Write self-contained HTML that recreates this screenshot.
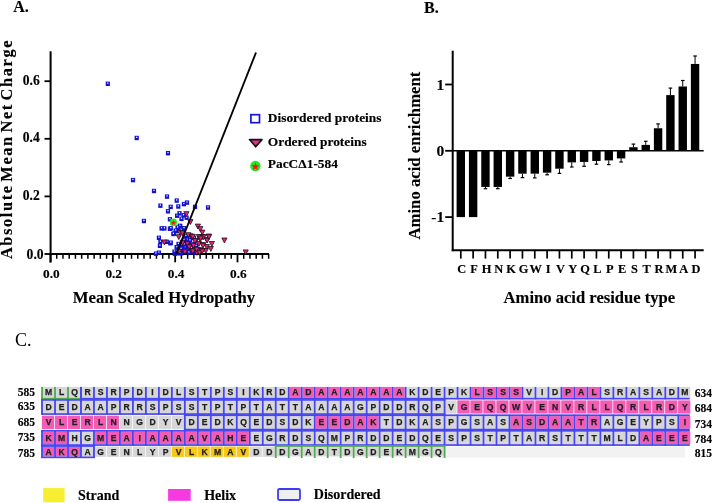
<!DOCTYPE html>
<html><head><meta charset="utf-8"><style>
html,body{margin:0;padding:0;background:#fff;}
body{width:712px;height:503px;overflow:hidden;position:relative;font-family:"Liberation Serif", serif;}
svg{position:absolute;left:0;top:0;will-change:transform;filter:blur(0.3px);}
text.s{stroke:#000;stroke-width:0.15px;}
</style></head><body>
<svg width="712" height="503" viewBox="0 0 712 503">
<line x1="50.6" y1="51.3" x2="50.6" y2="262.5" stroke="#000" stroke-width="2"/>
<line x1="50" y1="254" x2="269" y2="254" stroke="#000" stroke-width="2"/>
<line x1="44.5" y1="254.0" x2="51" y2="254.0" stroke="#000" stroke-width="1.8"/>
<text x="43.6" y="258.6" text-anchor="end" class="s" font-family='"Liberation Serif", serif' font-weight="bold" font-size="13.6">0.0</text>
<line x1="44.5" y1="196.4" x2="51" y2="196.4" stroke="#000" stroke-width="1.8"/>
<text x="39.8" y="199.8" text-anchor="end" class="s" font-family='"Liberation Serif", serif' font-weight="bold" font-size="13.6">0.2</text>
<line x1="44.5" y1="138.8" x2="51" y2="138.8" stroke="#000" stroke-width="1.8"/>
<text x="39.8" y="142.2" text-anchor="end" class="s" font-family='"Liberation Serif", serif' font-weight="bold" font-size="13.6">0.4</text>
<line x1="44.5" y1="81.2" x2="51" y2="81.2" stroke="#000" stroke-width="1.8"/>
<text x="39.8" y="84.6" text-anchor="end" class="s" font-family='"Liberation Serif", serif' font-weight="bold" font-size="13.6">0.6</text>
<line x1="50.50" y1="254" x2="50.50" y2="262.3" stroke="#000" stroke-width="1.8"/>
<text x="51.4" y="278.4" text-anchor="middle" class="s" font-family='"Liberation Serif", serif' font-weight="bold" font-size="13.3">0.0</text>
<line x1="56.73" y1="254" x2="56.73" y2="258.8" stroke="#000" stroke-width="1.5"/>
<line x1="62.97" y1="254" x2="62.97" y2="258.8" stroke="#000" stroke-width="1.5"/>
<line x1="69.20" y1="254" x2="69.20" y2="258.8" stroke="#000" stroke-width="1.5"/>
<line x1="75.43" y1="254" x2="75.43" y2="258.8" stroke="#000" stroke-width="1.5"/>
<line x1="81.66" y1="254" x2="81.66" y2="258.8" stroke="#000" stroke-width="1.5"/>
<line x1="87.90" y1="254" x2="87.90" y2="258.8" stroke="#000" stroke-width="1.5"/>
<line x1="94.13" y1="254" x2="94.13" y2="258.8" stroke="#000" stroke-width="1.5"/>
<line x1="100.36" y1="254" x2="100.36" y2="258.8" stroke="#000" stroke-width="1.5"/>
<line x1="106.60" y1="254" x2="106.60" y2="258.8" stroke="#000" stroke-width="1.5"/>
<line x1="112.83" y1="254" x2="112.83" y2="262.3" stroke="#000" stroke-width="1.8"/>
<text x="113.7" y="278.4" text-anchor="middle" class="s" font-family='"Liberation Serif", serif' font-weight="bold" font-size="13.3">0.2</text>
<line x1="119.06" y1="254" x2="119.06" y2="258.8" stroke="#000" stroke-width="1.5"/>
<line x1="125.30" y1="254" x2="125.30" y2="258.8" stroke="#000" stroke-width="1.5"/>
<line x1="131.53" y1="254" x2="131.53" y2="258.8" stroke="#000" stroke-width="1.5"/>
<line x1="137.76" y1="254" x2="137.76" y2="258.8" stroke="#000" stroke-width="1.5"/>
<line x1="144.00" y1="254" x2="144.00" y2="258.8" stroke="#000" stroke-width="1.5"/>
<line x1="150.23" y1="254" x2="150.23" y2="258.8" stroke="#000" stroke-width="1.5"/>
<line x1="156.46" y1="254" x2="156.46" y2="258.8" stroke="#000" stroke-width="1.5"/>
<line x1="162.69" y1="254" x2="162.69" y2="258.8" stroke="#000" stroke-width="1.5"/>
<line x1="168.93" y1="254" x2="168.93" y2="258.8" stroke="#000" stroke-width="1.5"/>
<line x1="175.16" y1="254" x2="175.16" y2="262.3" stroke="#000" stroke-width="1.8"/>
<text x="176.1" y="278.4" text-anchor="middle" class="s" font-family='"Liberation Serif", serif' font-weight="bold" font-size="13.3">0.4</text>
<line x1="181.39" y1="254" x2="181.39" y2="258.8" stroke="#000" stroke-width="1.5"/>
<line x1="187.63" y1="254" x2="187.63" y2="258.8" stroke="#000" stroke-width="1.5"/>
<line x1="193.86" y1="254" x2="193.86" y2="258.8" stroke="#000" stroke-width="1.5"/>
<line x1="200.09" y1="254" x2="200.09" y2="258.8" stroke="#000" stroke-width="1.5"/>
<line x1="206.32" y1="254" x2="206.32" y2="258.8" stroke="#000" stroke-width="1.5"/>
<line x1="212.56" y1="254" x2="212.56" y2="258.8" stroke="#000" stroke-width="1.5"/>
<line x1="218.79" y1="254" x2="218.79" y2="258.8" stroke="#000" stroke-width="1.5"/>
<line x1="225.02" y1="254" x2="225.02" y2="258.8" stroke="#000" stroke-width="1.5"/>
<line x1="231.26" y1="254" x2="231.26" y2="258.8" stroke="#000" stroke-width="1.5"/>
<line x1="237.49" y1="254" x2="237.49" y2="262.3" stroke="#000" stroke-width="1.8"/>
<text x="238.4" y="278.4" text-anchor="middle" class="s" font-family='"Liberation Serif", serif' font-weight="bold" font-size="13.3">0.6</text>
<line x1="243.72" y1="254" x2="243.72" y2="258.8" stroke="#000" stroke-width="1.5"/>
<line x1="249.96" y1="254" x2="249.96" y2="258.8" stroke="#000" stroke-width="1.5"/>
<line x1="256.19" y1="254" x2="256.19" y2="258.8" stroke="#000" stroke-width="1.5"/>
<line x1="262.42" y1="254" x2="262.42" y2="258.8" stroke="#000" stroke-width="1.5"/>
<line x1="268.65" y1="254" x2="268.65" y2="258.8" stroke="#000" stroke-width="1.5"/>
<rect x="105.7" y="81.6" width="4.2" height="4.4" fill="#1212d0"/><rect x="107.2" y="82.5" width="1.2" height="1.3" fill="#fff"/>
<rect x="134.6" y="135.8" width="4.2" height="4.4" fill="#1212d0"/><rect x="136.1" y="136.7" width="1.2" height="1.3" fill="#fff"/>
<rect x="165.9" y="151.0" width="4.2" height="4.4" fill="#1212d0"/><rect x="167.4" y="151.9" width="1.2" height="1.3" fill="#fff"/>
<rect x="130.9" y="177.9" width="4.2" height="4.4" fill="#1212d0"/><rect x="132.4" y="178.8" width="1.2" height="1.3" fill="#fff"/>
<rect x="151.9" y="188.8" width="4.2" height="4.4" fill="#1212d0"/><rect x="153.4" y="189.7" width="1.2" height="1.3" fill="#fff"/>
<rect x="141.8" y="218.8" width="4.2" height="4.4" fill="#1212d0"/><rect x="143.3" y="219.7" width="1.2" height="1.3" fill="#fff"/>
<rect x="164.9" y="194.4" width="4.2" height="4.4" fill="#1212d0"/><rect x="166.4" y="195.3" width="1.2" height="1.3" fill="#fff"/>
<rect x="174.6" y="198.4" width="4.2" height="4.4" fill="#1212d0"/><rect x="176.1" y="199.3" width="1.2" height="1.3" fill="#fff"/>
<rect x="158.3" y="203.5" width="4.2" height="4.4" fill="#1212d0"/><rect x="159.8" y="204.4" width="1.2" height="1.3" fill="#fff"/>
<rect x="168.6" y="204.7" width="4.2" height="4.4" fill="#1212d0"/><rect x="170.1" y="205.6" width="1.2" height="1.3" fill="#fff"/>
<rect x="176.2" y="204.3" width="4.2" height="4.4" fill="#1212d0"/><rect x="177.7" y="205.2" width="1.2" height="1.3" fill="#fff"/>
<rect x="181.8" y="201.9" width="4.2" height="4.4" fill="#1212d0"/><rect x="183.3" y="202.8" width="1.2" height="1.3" fill="#fff"/>
<rect x="184.9" y="200.4" width="4.2" height="4.4" fill="#1212d0"/><rect x="186.4" y="201.3" width="1.2" height="1.3" fill="#fff"/>
<rect x="192.9" y="204.7" width="4.2" height="4.4" fill="#1212d0"/><rect x="194.4" y="205.6" width="1.2" height="1.3" fill="#fff"/>
<rect x="205.9" y="205.3" width="4.2" height="4.4" fill="#1212d0"/><rect x="207.4" y="206.2" width="1.2" height="1.3" fill="#fff"/>
<rect x="165.9" y="209.1" width="4.2" height="4.4" fill="#1212d0"/><rect x="167.4" y="210.0" width="1.2" height="1.3" fill="#fff"/>
<rect x="175.0" y="213.5" width="4.2" height="4.4" fill="#1212d0"/><rect x="176.5" y="214.4" width="1.2" height="1.3" fill="#fff"/>
<rect x="177.4" y="211.1" width="4.2" height="4.4" fill="#1212d0"/><rect x="178.9" y="212.0" width="1.2" height="1.3" fill="#fff"/>
<rect x="181.4" y="213.1" width="4.2" height="4.4" fill="#1212d0"/><rect x="182.9" y="214.0" width="1.2" height="1.3" fill="#fff"/>
<rect x="179.4" y="216.7" width="4.2" height="4.4" fill="#1212d0"/><rect x="180.9" y="217.6" width="1.2" height="1.3" fill="#fff"/>
<rect x="184.5" y="215.5" width="4.2" height="4.4" fill="#1212d0"/><rect x="186.0" y="216.4" width="1.2" height="1.3" fill="#fff"/>
<rect x="167.8" y="217.1" width="4.2" height="4.4" fill="#1212d0"/><rect x="169.3" y="218.0" width="1.2" height="1.3" fill="#fff"/>
<rect x="159.5" y="226.2" width="4.2" height="4.4" fill="#1212d0"/><rect x="161.0" y="227.1" width="1.2" height="1.3" fill="#fff"/>
<rect x="162.3" y="226.2" width="4.2" height="4.4" fill="#1212d0"/><rect x="163.8" y="227.1" width="1.2" height="1.3" fill="#fff"/>
<rect x="167.8" y="226.6" width="4.2" height="4.4" fill="#1212d0"/><rect x="169.3" y="227.5" width="1.2" height="1.3" fill="#fff"/>
<rect x="178.2" y="223.8" width="4.2" height="4.4" fill="#1212d0"/><rect x="179.7" y="224.7" width="1.2" height="1.3" fill="#fff"/>
<rect x="175.8" y="226.2" width="4.2" height="4.4" fill="#1212d0"/><rect x="177.3" y="227.1" width="1.2" height="1.3" fill="#fff"/>
<rect x="181.8" y="226.6" width="4.2" height="4.4" fill="#1212d0"/><rect x="183.3" y="227.5" width="1.2" height="1.3" fill="#fff"/>
<rect x="173.8" y="229.0" width="4.2" height="4.4" fill="#1212d0"/><rect x="175.3" y="229.9" width="1.2" height="1.3" fill="#fff"/>
<rect x="171.8" y="231.4" width="4.2" height="4.4" fill="#1212d0"/><rect x="173.3" y="232.3" width="1.2" height="1.3" fill="#fff"/>
<rect x="156.8" y="235.6" width="4.2" height="4.4" fill="#1212d0"/><rect x="158.3" y="236.5" width="1.2" height="1.3" fill="#fff"/>
<rect x="158.3" y="239.6" width="4.2" height="4.4" fill="#1212d0"/><rect x="159.8" y="240.5" width="1.2" height="1.3" fill="#fff"/>
<rect x="164.7" y="239.6" width="4.2" height="4.4" fill="#1212d0"/><rect x="166.2" y="240.5" width="1.2" height="1.3" fill="#fff"/>
<rect x="168.2" y="241.1" width="4.2" height="4.4" fill="#1212d0"/><rect x="169.7" y="242.0" width="1.2" height="1.3" fill="#fff"/>
<rect x="157.8" y="243.6" width="4.2" height="4.4" fill="#1212d0"/><rect x="159.3" y="244.5" width="1.2" height="1.3" fill="#fff"/>
<rect x="174.7" y="245.1" width="4.2" height="4.4" fill="#1212d0"/><rect x="176.2" y="246.0" width="1.2" height="1.3" fill="#fff"/>
<rect x="153.8" y="251.5" width="4.2" height="4.4" fill="#1212d0"/><rect x="155.3" y="252.4" width="1.2" height="1.3" fill="#fff"/>
<rect x="156.8" y="250.5" width="4.2" height="4.4" fill="#1212d0"/><rect x="158.3" y="251.4" width="1.2" height="1.3" fill="#fff"/>
<rect x="172.7" y="251.5" width="4.2" height="4.4" fill="#1212d0"/><rect x="174.2" y="252.4" width="1.2" height="1.3" fill="#fff"/>
<rect x="177.7" y="223.8" width="4.2" height="4.4" fill="#1212d0"/><rect x="179.2" y="224.7" width="1.2" height="1.3" fill="#fff"/>
<rect x="175.5" y="225.4" width="4.2" height="4.4" fill="#1212d0"/><rect x="177.0" y="226.3" width="1.2" height="1.3" fill="#fff"/>
<rect x="181.9" y="226.1" width="4.2" height="4.4" fill="#1212d0"/><rect x="183.4" y="227.0" width="1.2" height="1.3" fill="#fff"/>
<rect x="179.2" y="228.4" width="4.2" height="4.4" fill="#1212d0"/><rect x="180.7" y="229.3" width="1.2" height="1.3" fill="#fff"/>
<rect x="173.6" y="228.4" width="4.2" height="4.4" fill="#1212d0"/><rect x="175.1" y="229.3" width="1.2" height="1.3" fill="#fff"/>
<rect x="171.3" y="231.8" width="4.2" height="4.4" fill="#1212d0"/><rect x="172.8" y="232.7" width="1.2" height="1.3" fill="#fff"/>
<rect x="168.7" y="226.1" width="4.2" height="4.4" fill="#1212d0"/><rect x="170.2" y="227.0" width="1.2" height="1.3" fill="#fff"/>
<rect x="168.7" y="240.5" width="4.2" height="4.4" fill="#1212d0"/><rect x="170.2" y="241.4" width="1.2" height="1.3" fill="#fff"/>
<rect x="183.0" y="235.9" width="4.2" height="4.4" fill="#1212d0"/><rect x="184.5" y="236.8" width="1.2" height="1.3" fill="#fff"/>
<rect x="181.1" y="239.7" width="4.2" height="4.4" fill="#1212d0"/><rect x="182.6" y="240.6" width="1.2" height="1.3" fill="#fff"/>
<rect x="185.3" y="237.5" width="4.2" height="4.4" fill="#1212d0"/><rect x="186.8" y="238.4" width="1.2" height="1.3" fill="#fff"/>
<rect x="187.6" y="235.9" width="4.2" height="4.4" fill="#1212d0"/><rect x="189.1" y="236.8" width="1.2" height="1.3" fill="#fff"/>
<rect x="183.8" y="240.5" width="4.2" height="4.4" fill="#1212d0"/><rect x="185.3" y="241.4" width="1.2" height="1.3" fill="#fff"/>
<rect x="180.0" y="242.8" width="4.2" height="4.4" fill="#1212d0"/><rect x="181.5" y="243.7" width="1.2" height="1.3" fill="#fff"/>
<rect x="183.0" y="245.0" width="4.2" height="4.4" fill="#1212d0"/><rect x="184.5" y="245.9" width="1.2" height="1.3" fill="#fff"/>
<rect x="187.6" y="240.5" width="4.2" height="4.4" fill="#1212d0"/><rect x="189.1" y="241.4" width="1.2" height="1.3" fill="#fff"/>
<rect x="190.6" y="242.8" width="4.2" height="4.4" fill="#1212d0"/><rect x="192.1" y="243.7" width="1.2" height="1.3" fill="#fff"/>
<rect x="174.7" y="245.0" width="4.2" height="4.4" fill="#1212d0"/><rect x="176.2" y="245.9" width="1.2" height="1.3" fill="#fff"/>
<rect x="177.7" y="246.5" width="4.2" height="4.4" fill="#1212d0"/><rect x="179.2" y="247.4" width="1.2" height="1.3" fill="#fff"/>
<rect x="180.0" y="248.0" width="4.2" height="4.4" fill="#1212d0"/><rect x="181.5" y="248.9" width="1.2" height="1.3" fill="#fff"/>
<rect x="185.3" y="248.0" width="4.2" height="4.4" fill="#1212d0"/><rect x="186.8" y="248.9" width="1.2" height="1.3" fill="#fff"/>
<rect x="172.4" y="249.5" width="4.2" height="4.4" fill="#1212d0"/><rect x="173.9" y="250.4" width="1.2" height="1.3" fill="#fff"/>
<rect x="174.7" y="251.1" width="4.2" height="4.4" fill="#1212d0"/><rect x="176.2" y="252.0" width="1.2" height="1.3" fill="#fff"/>
<rect x="179.2" y="251.1" width="4.2" height="4.4" fill="#1212d0"/><rect x="180.7" y="252.0" width="1.2" height="1.3" fill="#fff"/>
<rect x="186.8" y="250.3" width="4.2" height="4.4" fill="#1212d0"/><rect x="188.3" y="251.2" width="1.2" height="1.3" fill="#fff"/>
<rect x="192.1" y="250.3" width="4.2" height="4.4" fill="#1212d0"/><rect x="193.6" y="251.2" width="1.2" height="1.3" fill="#fff"/>
<rect x="189.1" y="245.8" width="4.2" height="4.4" fill="#1212d0"/><rect x="190.6" y="246.7" width="1.2" height="1.3" fill="#fff"/>
<rect x="183.9" y="233.8" width="4.2" height="4.4" fill="#1212d0"/><rect x="185.4" y="234.7" width="1.2" height="1.3" fill="#fff"/>
<rect x="187.9" y="238.3" width="4.2" height="4.4" fill="#1212d0"/><rect x="189.4" y="239.2" width="1.2" height="1.3" fill="#fff"/>
<rect x="191.9" y="235.8" width="4.2" height="4.4" fill="#1212d0"/><rect x="193.4" y="236.7" width="1.2" height="1.3" fill="#fff"/>
<rect x="181.9" y="242.3" width="4.2" height="4.4" fill="#1212d0"/><rect x="183.4" y="243.2" width="1.2" height="1.3" fill="#fff"/>
<rect x="185.9" y="243.8" width="4.2" height="4.4" fill="#1212d0"/><rect x="187.4" y="244.7" width="1.2" height="1.3" fill="#fff"/>
<rect x="189.9" y="241.8" width="4.2" height="4.4" fill="#1212d0"/><rect x="191.4" y="242.7" width="1.2" height="1.3" fill="#fff"/>
<rect x="193.9" y="243.8" width="4.2" height="4.4" fill="#1212d0"/><rect x="195.4" y="244.7" width="1.2" height="1.3" fill="#fff"/>
<rect x="178.9" y="246.8" width="4.2" height="4.4" fill="#1212d0"/><rect x="180.4" y="247.7" width="1.2" height="1.3" fill="#fff"/>
<rect x="182.9" y="248.8" width="4.2" height="4.4" fill="#1212d0"/><rect x="184.4" y="249.7" width="1.2" height="1.3" fill="#fff"/>
<rect x="186.9" y="246.8" width="4.2" height="4.4" fill="#1212d0"/><rect x="188.4" y="247.7" width="1.2" height="1.3" fill="#fff"/>
<rect x="190.9" y="249.8" width="4.2" height="4.4" fill="#1212d0"/><rect x="192.4" y="250.7" width="1.2" height="1.3" fill="#fff"/>
<rect x="177.9" y="250.8" width="4.2" height="4.4" fill="#1212d0"/><rect x="179.4" y="251.7" width="1.2" height="1.3" fill="#fff"/>
<rect x="194.9" y="248.3" width="4.2" height="4.4" fill="#1212d0"/><rect x="196.4" y="249.2" width="1.2" height="1.3" fill="#fff"/>
<rect x="181.9" y="237.8" width="4.2" height="4.4" fill="#1212d0"/><rect x="183.4" y="238.7" width="1.2" height="1.3" fill="#fff"/>
<rect x="188.9" y="233.3" width="4.2" height="4.4" fill="#1212d0"/><rect x="190.4" y="234.2" width="1.2" height="1.3" fill="#fff"/>
<rect x="176.4" y="241.8" width="4.2" height="4.4" fill="#1212d0"/><rect x="177.9" y="242.7" width="1.2" height="1.3" fill="#fff"/>
<path d="M183.8 211.7H189.0L186.4 216.6Z" fill="#ec1c84" stroke="#141414" stroke-width="0.8"/>
<path d="M187.8 219.6H193.0L190.4 224.5Z" fill="#ec1c84" stroke="#141414" stroke-width="0.8"/>
<path d="M195.3 224.1H200.5L197.9 229.0Z" fill="#ec1c84" stroke="#141414" stroke-width="0.8"/>
<path d="M197.7 226.6H202.9L200.3 231.5Z" fill="#ec1c84" stroke="#141414" stroke-width="0.8"/>
<path d="M199.7 230.1H204.9L202.3 235.0Z" fill="#ec1c84" stroke="#141414" stroke-width="0.8"/>
<path d="M200.2 234.5H205.4L202.8 239.4Z" fill="#ec1c84" stroke="#141414" stroke-width="0.8"/>
<path d="M196.3 234.5H201.5L198.9 239.4Z" fill="#ec1c84" stroke="#141414" stroke-width="0.8"/>
<path d="M206.2 234.0H211.4L208.8 238.9Z" fill="#ec1c84" stroke="#141414" stroke-width="0.8"/>
<path d="M197.3 236.5H202.5L199.9 241.4Z" fill="#ec1c84" stroke="#141414" stroke-width="0.8"/>
<path d="M204.2 237.5H209.4L206.8 242.4Z" fill="#ec1c84" stroke="#141414" stroke-width="0.8"/>
<path d="M209.2 241.5H214.4L211.8 246.4Z" fill="#ec1c84" stroke="#141414" stroke-width="0.8"/>
<path d="M196.3 241.5H201.5L198.9 246.4Z" fill="#ec1c84" stroke="#141414" stroke-width="0.8"/>
<path d="M200.2 242.5H205.4L202.8 247.4Z" fill="#ec1c84" stroke="#141414" stroke-width="0.8"/>
<path d="M204.2 244.5H209.4L206.8 249.4Z" fill="#ec1c84" stroke="#141414" stroke-width="0.8"/>
<path d="M208.2 246.5H213.4L210.8 251.4Z" fill="#ec1c84" stroke="#141414" stroke-width="0.8"/>
<path d="M196.3 247.5H201.5L198.9 252.4Z" fill="#ec1c84" stroke="#141414" stroke-width="0.8"/>
<path d="M199.2 248.5H204.4L201.8 253.4Z" fill="#ec1c84" stroke="#141414" stroke-width="0.8"/>
<path d="M203.2 248.5H208.4L205.8 253.4Z" fill="#ec1c84" stroke="#141414" stroke-width="0.8"/>
<path d="M194.3 250.4H199.5L196.9 255.3Z" fill="#ec1c84" stroke="#141414" stroke-width="0.8"/>
<path d="M221.8 238.0H227.0L224.4 242.9Z" fill="#ec1c84" stroke="#141414" stroke-width="0.8"/>
<path d="M243.1 249.9H248.3L245.7 254.8Z" fill="#ec1c84" stroke="#141414" stroke-width="0.8"/>
<path d="M161.8 240.0H167.0L164.4 244.9Z" fill="#ec1c84" stroke="#141414" stroke-width="0.8"/>
<path d="M177.3 230.3H182.5L179.9 235.2Z" fill="#ec1c84" stroke="#141414" stroke-width="0.8"/>
<path d="M179.9 230.9H185.1L182.5 235.8Z" fill="#ec1c84" stroke="#141414" stroke-width="0.8"/>
<path d="M176.2 234.7H181.4L178.8 239.6Z" fill="#ec1c84" stroke="#141414" stroke-width="0.8"/>
<path d="M180.0 240.3H185.2L182.6 245.2Z" fill="#ec1c84" stroke="#141414" stroke-width="0.8"/>
<path d="M184.8 241.7H190.0L187.4 246.6Z" fill="#ec1c84" stroke="#141414" stroke-width="0.8"/>
<path d="M186.7 244.7H191.9L189.3 249.6Z" fill="#ec1c84" stroke="#141414" stroke-width="0.8"/>
<path d="M182.4 249.7H187.6L185.0 254.6Z" fill="#ec1c84" stroke="#141414" stroke-width="0.8"/>
<path d="M176.6 249.3H181.8L179.2 254.2Z" fill="#ec1c84" stroke="#141414" stroke-width="0.8"/>
<path d="M189.1 248.4H194.3L191.7 253.3Z" fill="#ec1c84" stroke="#141414" stroke-width="0.8"/>
<path d="M185.7 232.7H190.9L188.3 237.6Z" fill="#ec1c84" stroke="#141414" stroke-width="0.8"/>
<path d="M189.4 234.7H194.6L192.0 239.6Z" fill="#ec1c84" stroke="#141414" stroke-width="0.8"/>
<path d="M193.3 238.5H198.5L195.9 243.4Z" fill="#ec1c84" stroke="#141414" stroke-width="0.8"/>
<path d="M193.9 247.2H199.1L196.5 252.1Z" fill="#ec1c84" stroke="#141414" stroke-width="0.8"/>
<path d="M190.2 234.3H195.4L192.8 239.2Z" fill="#ec1c84" stroke="#141414" stroke-width="0.8"/>
<path d="M200.7 234.9H205.9L203.3 239.8Z" fill="#ec1c84" stroke="#141414" stroke-width="0.8"/>
<path d="M200.4 243.2H205.6L203.0 248.1Z" fill="#ec1c84" stroke="#141414" stroke-width="0.8"/>
<path d="M204.5 238.1H209.7L207.1 243.0Z" fill="#ec1c84" stroke="#141414" stroke-width="0.8"/>
<path d="M197.0 250.3H202.2L199.6 255.2Z" fill="#ec1c84" stroke="#141414" stroke-width="0.8"/>
<path d="M199.6 248.9H204.8L202.2 253.8Z" fill="#ec1c84" stroke="#141414" stroke-width="0.8"/>
<path d="M190.9 243.4H196.1L193.5 248.3Z" fill="#ec1c84" stroke="#141414" stroke-width="0.8"/>
<path d="M190.2 248.9H195.4L192.8 253.8Z" fill="#ec1c84" stroke="#141414" stroke-width="0.8"/>
<path d="M198.1 236.0H203.3L200.7 240.9Z" fill="#ec1c84" stroke="#141414" stroke-width="0.8"/>
<path d="M192.4 238.7H197.6L195.0 243.6Z" fill="#ec1c84" stroke="#141414" stroke-width="0.8"/>
<path d="M206.4 234.7H211.6L209.0 239.6Z" fill="#ec1c84" stroke="#141414" stroke-width="0.8"/>
<ellipse cx="173.4" cy="222.4" rx="3.6" ry="3.8" fill="#22ea22"/>
<path d="M173.40 220.00L174.11 221.83L176.06 221.93L174.54 223.17L175.05 225.07L173.40 224.00L171.75 225.07L172.26 223.17L170.74 221.93L172.69 221.83Z" fill="#f21a12"/>
<line x1="176.3" y1="254" x2="256" y2="52.5" stroke="#000" stroke-width="1.9"/>
<text x="164" y="303" text-anchor="middle" class="s" font-family='"Liberation Serif", serif' font-weight="bold" font-size="16.7">Mean Scaled Hydropathy</text>
<text transform="translate(12.2,149.0) rotate(-90)" text-anchor="middle" class="s" font-family='"Liberation Serif", serif' font-weight="bold" font-size="16.4" letter-spacing="1.6" word-spacing="-3">Absolute Mean Net Charge</text>
<rect x="250.9" y="114.7" width="8.6" height="8" fill="#fff" stroke="#1616d8" stroke-width="1.7"/>
<path d="M249.5 139.6H262L255.7 146.8Z" fill="#ee2a88" stroke="#111" stroke-width="1.6" stroke-linejoin="round"/>
<circle cx="255.4" cy="166" r="5.2" fill="#22ea22"/>
<path d="M255.40 162.40L256.46 165.14L259.39 165.30L257.11 167.16L257.87 170.00L255.40 168.40L252.93 170.00L253.69 167.16L251.41 165.30L254.34 165.14Z" fill="#f21a12"/>
<text x="267.8" y="122.1" class="s" font-family='"Liberation Serif", serif' font-weight="bold" font-size="13.4">Disordered proteins</text>
<text x="267.8" y="146.2" class="s" font-family='"Liberation Serif", serif' font-weight="bold" font-size="13.4">Ordered proteins</text>
<text x="267.8" y="168.1" class="s" font-family='"Liberation Serif", serif' font-weight="bold" font-size="13.4">PacCΔ1-584</text>
<text x="13.3" y="12" class="s" font-family='"Liberation Serif", serif' font-weight="bold" font-size="16">A.</text>
<text x="424" y="12.6" class="s" font-family='"Liberation Serif", serif' font-weight="bold" font-size="16">B.</text>
<text x="15" y="345.7" font-family='"Liberation Serif", serif' font-size="18">C.</text>
<rect x="456.60" y="150.80" width="8.4" height="66.30" fill="#000"/>
<line x1="460.80" y1="250" x2="460.80" y2="258.6" stroke="#000" stroke-width="1.7"/>
<text x="461.80" y="273.2" text-anchor="middle" class="s" font-family='"Liberation Serif", serif' font-weight="bold" font-size="12.4">C</text>
<rect x="468.93" y="150.80" width="8.4" height="66.30" fill="#000"/>
<line x1="473.13" y1="250" x2="473.13" y2="258.6" stroke="#000" stroke-width="1.7"/>
<text x="474.13" y="273.2" text-anchor="middle" class="s" font-family='"Liberation Serif", serif' font-weight="bold" font-size="12.4">F</text>
<rect x="481.26" y="150.80" width="8.4" height="36.13" fill="#000"/>
<line x1="485.46" y1="186.93" x2="485.46" y2="188.7" stroke="#000" stroke-width="1"/>
<line x1="483.66" y1="188.7" x2="487.26" y2="188.7" stroke="#000" stroke-width="1.2"/>
<line x1="485.46" y1="250" x2="485.46" y2="258.6" stroke="#000" stroke-width="1.7"/>
<text x="486.46" y="273.2" text-anchor="middle" class="s" font-family='"Liberation Serif", serif' font-weight="bold" font-size="12.4">H</text>
<rect x="493.59" y="150.80" width="8.4" height="36.13" fill="#000"/>
<line x1="497.79" y1="186.93" x2="497.79" y2="188.7" stroke="#000" stroke-width="1"/>
<line x1="495.99" y1="188.7" x2="499.59" y2="188.7" stroke="#000" stroke-width="1.2"/>
<line x1="497.79" y1="250" x2="497.79" y2="258.6" stroke="#000" stroke-width="1.7"/>
<text x="498.79" y="273.2" text-anchor="middle" class="s" font-family='"Liberation Serif", serif' font-weight="bold" font-size="12.4">N</text>
<rect x="505.92" y="150.80" width="8.4" height="25.86" fill="#000"/>
<line x1="510.12" y1="176.66" x2="510.12" y2="178.5" stroke="#000" stroke-width="1"/>
<line x1="508.32" y1="178.5" x2="511.92" y2="178.5" stroke="#000" stroke-width="1.2"/>
<line x1="510.12" y1="250" x2="510.12" y2="258.6" stroke="#000" stroke-width="1.7"/>
<text x="511.12" y="273.2" text-anchor="middle" class="s" font-family='"Liberation Serif", serif' font-weight="bold" font-size="12.4">K</text>
<rect x="518.25" y="150.80" width="8.4" height="22.87" fill="#000"/>
<line x1="522.45" y1="173.67" x2="522.45" y2="177.6" stroke="#000" stroke-width="1"/>
<line x1="520.65" y1="177.6" x2="524.25" y2="177.6" stroke="#000" stroke-width="1.2"/>
<line x1="522.45" y1="250" x2="522.45" y2="258.6" stroke="#000" stroke-width="1.7"/>
<text x="523.45" y="273.2" text-anchor="middle" class="s" font-family='"Liberation Serif", serif' font-weight="bold" font-size="12.4">G</text>
<rect x="530.58" y="150.80" width="8.4" height="22.87" fill="#000"/>
<line x1="534.78" y1="173.67" x2="534.78" y2="177.9" stroke="#000" stroke-width="1"/>
<line x1="532.98" y1="177.9" x2="536.58" y2="177.9" stroke="#000" stroke-width="1.2"/>
<line x1="534.78" y1="250" x2="534.78" y2="258.6" stroke="#000" stroke-width="1.7"/>
<text x="535.78" y="273.2" text-anchor="middle" class="s" font-family='"Liberation Serif", serif' font-weight="bold" font-size="12.4">W</text>
<rect x="542.91" y="150.80" width="8.4" height="21.88" fill="#000"/>
<line x1="547.11" y1="172.68" x2="547.11" y2="174.8" stroke="#000" stroke-width="1"/>
<line x1="545.31" y1="174.8" x2="548.91" y2="174.8" stroke="#000" stroke-width="1.2"/>
<line x1="547.11" y1="250" x2="547.11" y2="258.6" stroke="#000" stroke-width="1.7"/>
<text x="548.11" y="273.2" text-anchor="middle" class="s" font-family='"Liberation Serif", serif' font-weight="bold" font-size="12.4">I</text>
<rect x="555.24" y="150.80" width="8.4" height="17.90" fill="#000"/>
<line x1="559.44" y1="168.70" x2="559.44" y2="173.4" stroke="#000" stroke-width="1"/>
<line x1="557.64" y1="173.4" x2="561.24" y2="173.4" stroke="#000" stroke-width="1.2"/>
<line x1="559.44" y1="250" x2="559.44" y2="258.6" stroke="#000" stroke-width="1.7"/>
<text x="560.44" y="273.2" text-anchor="middle" class="s" font-family='"Liberation Serif", serif' font-weight="bold" font-size="12.4">V</text>
<rect x="567.57" y="150.80" width="8.4" height="11.60" fill="#000"/>
<line x1="571.77" y1="162.40" x2="571.77" y2="167" stroke="#000" stroke-width="1"/>
<line x1="569.97" y1="167" x2="573.57" y2="167" stroke="#000" stroke-width="1.2"/>
<line x1="571.77" y1="250" x2="571.77" y2="258.6" stroke="#000" stroke-width="1.7"/>
<text x="572.77" y="273.2" text-anchor="middle" class="s" font-family='"Liberation Serif", serif' font-weight="bold" font-size="12.4">Y</text>
<rect x="579.90" y="150.80" width="8.4" height="11.14" fill="#000"/>
<line x1="584.10" y1="161.94" x2="584.10" y2="166.3" stroke="#000" stroke-width="1"/>
<line x1="582.30" y1="166.3" x2="585.90" y2="166.3" stroke="#000" stroke-width="1.2"/>
<line x1="584.10" y1="250" x2="584.10" y2="258.6" stroke="#000" stroke-width="1.7"/>
<text x="585.10" y="273.2" text-anchor="middle" class="s" font-family='"Liberation Serif", serif' font-weight="bold" font-size="12.4">Q</text>
<rect x="592.23" y="150.80" width="8.4" height="10.14" fill="#000"/>
<line x1="596.43" y1="160.94" x2="596.43" y2="164.2" stroke="#000" stroke-width="1"/>
<line x1="594.63" y1="164.2" x2="598.23" y2="164.2" stroke="#000" stroke-width="1.2"/>
<line x1="596.43" y1="250" x2="596.43" y2="258.6" stroke="#000" stroke-width="1.7"/>
<text x="597.43" y="273.2" text-anchor="middle" class="s" font-family='"Liberation Serif", serif' font-weight="bold" font-size="12.4">L</text>
<rect x="604.56" y="150.80" width="8.4" height="9.61" fill="#000"/>
<line x1="608.76" y1="160.41" x2="608.76" y2="164.6" stroke="#000" stroke-width="1"/>
<line x1="606.96" y1="164.6" x2="610.56" y2="164.6" stroke="#000" stroke-width="1.2"/>
<line x1="608.76" y1="250" x2="608.76" y2="258.6" stroke="#000" stroke-width="1.7"/>
<text x="609.76" y="273.2" text-anchor="middle" class="s" font-family='"Liberation Serif", serif' font-weight="bold" font-size="12.4">P</text>
<rect x="616.89" y="150.80" width="8.4" height="7.62" fill="#000"/>
<line x1="621.09" y1="158.42" x2="621.09" y2="162" stroke="#000" stroke-width="1"/>
<line x1="619.29" y1="162" x2="622.89" y2="162" stroke="#000" stroke-width="1.2"/>
<line x1="621.09" y1="250" x2="621.09" y2="258.6" stroke="#000" stroke-width="1.7"/>
<text x="622.09" y="273.2" text-anchor="middle" class="s" font-family='"Liberation Serif", serif' font-weight="bold" font-size="12.4">E</text>
<rect x="629.22" y="147.22" width="8.4" height="3.58" fill="#000"/>
<line x1="633.42" y1="147.22" x2="633.42" y2="144.1" stroke="#000" stroke-width="1"/>
<line x1="631.62" y1="144.1" x2="635.22" y2="144.1" stroke="#000" stroke-width="1.2"/>
<line x1="633.42" y1="250" x2="633.42" y2="258.6" stroke="#000" stroke-width="1.7"/>
<text x="634.42" y="273.2" text-anchor="middle" class="s" font-family='"Liberation Serif", serif' font-weight="bold" font-size="12.4">S</text>
<rect x="641.55" y="144.90" width="8.4" height="5.90" fill="#000"/>
<line x1="645.75" y1="144.90" x2="645.75" y2="141.3" stroke="#000" stroke-width="1"/>
<line x1="643.95" y1="141.3" x2="647.55" y2="141.3" stroke="#000" stroke-width="1.2"/>
<line x1="645.75" y1="250" x2="645.75" y2="258.6" stroke="#000" stroke-width="1.7"/>
<text x="646.75" y="273.2" text-anchor="middle" class="s" font-family='"Liberation Serif", serif' font-weight="bold" font-size="12.4">T</text>
<rect x="653.88" y="128.26" width="8.4" height="22.54" fill="#000"/>
<line x1="658.08" y1="128.26" x2="658.08" y2="123.9" stroke="#000" stroke-width="1"/>
<line x1="656.28" y1="123.9" x2="659.88" y2="123.9" stroke="#000" stroke-width="1.2"/>
<line x1="658.08" y1="250" x2="658.08" y2="258.6" stroke="#000" stroke-width="1.7"/>
<text x="659.08" y="273.2" text-anchor="middle" class="s" font-family='"Liberation Serif", serif' font-weight="bold" font-size="12.4">R</text>
<rect x="666.21" y="95.11" width="8.4" height="55.69" fill="#000"/>
<line x1="670.41" y1="95.11" x2="670.41" y2="88.1" stroke="#000" stroke-width="1"/>
<line x1="668.61" y1="88.1" x2="672.21" y2="88.1" stroke="#000" stroke-width="1.2"/>
<line x1="670.41" y1="250" x2="670.41" y2="258.6" stroke="#000" stroke-width="1.7"/>
<text x="671.41" y="273.2" text-anchor="middle" class="s" font-family='"Liberation Serif", serif' font-weight="bold" font-size="12.4">M</text>
<rect x="678.54" y="86.49" width="8.4" height="64.31" fill="#000"/>
<line x1="682.74" y1="86.49" x2="682.74" y2="80.5" stroke="#000" stroke-width="1"/>
<line x1="680.94" y1="80.5" x2="684.54" y2="80.5" stroke="#000" stroke-width="1.2"/>
<line x1="682.74" y1="250" x2="682.74" y2="258.6" stroke="#000" stroke-width="1.7"/>
<text x="683.74" y="273.2" text-anchor="middle" class="s" font-family='"Liberation Serif", serif' font-weight="bold" font-size="12.4">A</text>
<rect x="690.87" y="63.95" width="8.4" height="86.85" fill="#000"/>
<line x1="695.07" y1="63.95" x2="695.07" y2="56" stroke="#000" stroke-width="1"/>
<line x1="693.27" y1="56" x2="696.87" y2="56" stroke="#000" stroke-width="1.2"/>
<line x1="695.07" y1="250" x2="695.07" y2="258.6" stroke="#000" stroke-width="1.7"/>
<text x="696.07" y="273.2" text-anchor="middle" class="s" font-family='"Liberation Serif", serif' font-weight="bold" font-size="12.4">D</text>
<line x1="452" y1="150.8" x2="703.7" y2="150.8" stroke="#000" stroke-width="1.6"/>
<line x1="452.7" y1="50.7" x2="452.7" y2="251.2" stroke="#000" stroke-width="2"/>
<line x1="451.7" y1="250.2" x2="703.7" y2="250.2" stroke="#000" stroke-width="2"/>
<line x1="445.2" y1="84.5" x2="452.7" y2="84.5" stroke="#000" stroke-width="1.8"/>
<text x="444.2" y="89.7" text-anchor="end" class="s" font-family='"Liberation Serif", serif' font-weight="bold" font-size="15.5">1</text>
<line x1="445.2" y1="150.8" x2="452.7" y2="150.8" stroke="#000" stroke-width="1.8"/>
<text x="444.2" y="156.0" text-anchor="end" class="s" font-family='"Liberation Serif", serif' font-weight="bold" font-size="15.5">0</text>
<line x1="445.2" y1="217.1" x2="452.7" y2="217.1" stroke="#000" stroke-width="1.8"/>
<text x="444.2" y="222.3" text-anchor="end" class="s" font-family='"Liberation Serif", serif' font-weight="bold" font-size="15.5">-1</text>
<text x="589.4" y="303.3" text-anchor="middle" class="s" font-family='"Liberation Serif", serif' font-weight="bold" font-size="16.6">Amino acid residue type</text>
<text transform="translate(419.6,155.6) rotate(-90)" text-anchor="middle" class="s" font-family='"Liberation Serif", serif' font-weight="bold" font-size="16.7">Amino acid enrichment</text>
<rect x="444.3" y="446.6" width="240.6" height="11" fill="#f2f2f2"/>
<rect x="42.95" y="386.90" width="11.13" height="10.90" fill="#d7d7d7"/>
<rect x="55.94" y="386.90" width="11.13" height="10.90" fill="#d7d7d7"/>
<rect x="68.92" y="386.90" width="11.13" height="10.90" fill="#d7d7d7"/>
<rect x="81.91" y="386.90" width="11.13" height="10.90" fill="#d7d7d7"/>
<rect x="94.89" y="386.90" width="11.13" height="10.90" fill="#d7d7d7"/>
<rect x="107.88" y="386.90" width="11.13" height="10.90" fill="#d7d7d7"/>
<rect x="120.86" y="386.90" width="11.13" height="10.90" fill="#d7d7d7"/>
<rect x="133.84" y="386.90" width="11.13" height="10.90" fill="#d7d7d7"/>
<rect x="146.83" y="386.90" width="11.13" height="10.90" fill="#d7d7d7"/>
<rect x="159.81" y="386.90" width="11.13" height="10.90" fill="#d7d7d7"/>
<rect x="172.80" y="386.90" width="11.13" height="10.90" fill="#d7d7d7"/>
<rect x="185.78" y="386.90" width="11.13" height="10.90" fill="#d7d7d7"/>
<rect x="198.77" y="386.90" width="11.13" height="10.90" fill="#d7d7d7"/>
<rect x="211.75" y="386.90" width="11.13" height="10.90" fill="#d7d7d7"/>
<rect x="224.74" y="386.90" width="11.13" height="10.90" fill="#d7d7d7"/>
<rect x="237.72" y="386.90" width="11.13" height="10.90" fill="#d7d7d7"/>
<rect x="250.71" y="386.90" width="11.13" height="10.90" fill="#d7d7d7"/>
<rect x="263.70" y="386.90" width="11.13" height="10.90" fill="#d7d7d7"/>
<rect x="276.68" y="386.90" width="11.13" height="10.90" fill="#d7d7d7"/>
<rect x="289.67" y="386.90" width="11.13" height="10.90" fill="#f25cb4"/>
<rect x="302.65" y="386.90" width="11.13" height="10.90" fill="#f25cb4"/>
<rect x="315.64" y="386.90" width="11.13" height="10.90" fill="#f25cb4"/>
<rect x="328.62" y="386.90" width="11.13" height="10.90" fill="#f25cb4"/>
<rect x="341.61" y="386.90" width="11.13" height="10.90" fill="#f25cb4"/>
<rect x="354.59" y="386.90" width="11.13" height="10.90" fill="#f25cb4"/>
<rect x="367.58" y="386.90" width="11.13" height="10.90" fill="#f25cb4"/>
<rect x="380.56" y="386.90" width="11.13" height="10.90" fill="#f25cb4"/>
<rect x="393.55" y="386.90" width="11.13" height="10.90" fill="#f25cb4"/>
<rect x="406.53" y="386.90" width="11.13" height="10.90" fill="#d7d7d7"/>
<rect x="419.52" y="386.90" width="11.13" height="10.90" fill="#d7d7d7"/>
<rect x="432.50" y="386.90" width="11.13" height="10.90" fill="#d7d7d7"/>
<rect x="445.49" y="386.90" width="11.13" height="10.90" fill="#d7d7d7"/>
<rect x="458.47" y="386.90" width="11.13" height="10.90" fill="#d7d7d7"/>
<rect x="471.46" y="386.90" width="11.13" height="10.90" fill="#f25cb4"/>
<rect x="484.44" y="386.90" width="11.13" height="10.90" fill="#f25cb4"/>
<rect x="497.43" y="386.90" width="11.13" height="10.90" fill="#f25cb4"/>
<rect x="510.41" y="386.90" width="11.13" height="10.90" fill="#f25cb4"/>
<rect x="523.39" y="386.90" width="11.13" height="10.90" fill="#d7d7d7"/>
<rect x="536.38" y="386.90" width="11.13" height="10.90" fill="#d7d7d7"/>
<rect x="549.37" y="386.90" width="11.13" height="10.90" fill="#d7d7d7"/>
<rect x="562.35" y="386.90" width="11.13" height="10.90" fill="#f25cb4"/>
<rect x="575.34" y="386.90" width="11.13" height="10.90" fill="#f25cb4"/>
<rect x="588.32" y="386.90" width="11.13" height="10.90" fill="#f25cb4"/>
<rect x="601.31" y="386.90" width="11.13" height="10.90" fill="#d7d7d7"/>
<rect x="614.29" y="386.90" width="11.13" height="10.90" fill="#d7d7d7"/>
<rect x="627.27" y="386.90" width="11.13" height="10.90" fill="#d7d7d7"/>
<rect x="640.26" y="386.90" width="11.13" height="10.90" fill="#d7d7d7"/>
<rect x="653.25" y="386.90" width="11.13" height="10.90" fill="#d7d7d7"/>
<rect x="666.23" y="386.90" width="11.13" height="10.90" fill="#d7d7d7"/>
<rect x="679.22" y="386.90" width="11.13" height="10.90" fill="#d7d7d7"/>
<rect x="41.10" y="386.90" width="1.85" height="12.40" fill="#52a852"/>
<rect x="54.09" y="386.90" width="1.85" height="12.40" fill="#52a852"/>
<rect x="67.07" y="386.90" width="1.85" height="12.40" fill="#52a852"/>
<rect x="80.06" y="386.90" width="1.85" height="12.40" fill="#52a852"/>
<rect x="41.10" y="397.80" width="40.81" height="1.7" fill="#52a852"/>
<rect x="80.06" y="386.90" width="1.85" height="12.40" fill="#4646f2"/>
<rect x="93.04" y="386.90" width="1.85" height="12.40" fill="#4646f2"/>
<rect x="106.03" y="386.90" width="1.85" height="12.40" fill="#4646f2"/>
<rect x="119.01" y="386.90" width="1.85" height="12.40" fill="#4646f2"/>
<rect x="132.00" y="386.90" width="1.85" height="12.40" fill="#4646f2"/>
<rect x="144.98" y="386.90" width="1.85" height="12.40" fill="#4646f2"/>
<rect x="157.97" y="386.90" width="1.85" height="12.40" fill="#4646f2"/>
<rect x="170.95" y="386.90" width="1.85" height="12.40" fill="#4646f2"/>
<rect x="183.93" y="386.90" width="1.85" height="12.40" fill="#4646f2"/>
<rect x="196.92" y="386.90" width="1.85" height="12.40" fill="#4646f2"/>
<rect x="209.91" y="386.90" width="1.85" height="12.40" fill="#4646f2"/>
<rect x="222.89" y="386.90" width="1.85" height="12.40" fill="#4646f2"/>
<rect x="235.87" y="386.90" width="1.85" height="12.40" fill="#4646f2"/>
<rect x="248.86" y="386.90" width="1.85" height="12.40" fill="#4646f2"/>
<rect x="261.85" y="386.90" width="1.85" height="12.40" fill="#4646f2"/>
<rect x="274.83" y="386.90" width="1.85" height="12.40" fill="#4646f2"/>
<rect x="287.81" y="386.90" width="1.85" height="12.40" fill="#4646f2"/>
<rect x="300.80" y="386.90" width="1.85" height="12.40" fill="#4646f2"/>
<rect x="313.79" y="386.90" width="1.85" height="12.40" fill="#4646f2"/>
<rect x="326.77" y="386.90" width="1.85" height="12.40" fill="#4646f2"/>
<rect x="339.75" y="386.90" width="1.85" height="12.40" fill="#4646f2"/>
<rect x="352.74" y="386.90" width="1.85" height="12.40" fill="#4646f2"/>
<rect x="365.73" y="386.90" width="1.85" height="12.40" fill="#4646f2"/>
<rect x="378.71" y="386.90" width="1.85" height="12.40" fill="#4646f2"/>
<rect x="391.69" y="386.90" width="1.85" height="12.40" fill="#4646f2"/>
<rect x="404.68" y="386.90" width="1.85" height="12.40" fill="#4646f2"/>
<rect x="417.67" y="386.90" width="1.85" height="12.40" fill="#4646f2"/>
<rect x="430.65" y="386.90" width="1.85" height="12.40" fill="#4646f2"/>
<rect x="443.63" y="386.90" width="1.85" height="12.40" fill="#4646f2"/>
<rect x="456.62" y="386.90" width="1.85" height="12.40" fill="#4646f2"/>
<rect x="469.61" y="386.90" width="1.85" height="12.40" fill="#4646f2"/>
<rect x="482.59" y="386.90" width="1.85" height="12.40" fill="#4646f2"/>
<rect x="495.57" y="386.90" width="1.85" height="12.40" fill="#4646f2"/>
<rect x="508.56" y="386.90" width="1.85" height="12.40" fill="#4646f2"/>
<rect x="521.54" y="386.90" width="1.85" height="12.40" fill="#4646f2"/>
<rect x="534.53" y="386.90" width="1.85" height="12.40" fill="#4646f2"/>
<rect x="547.51" y="386.90" width="1.85" height="12.40" fill="#4646f2"/>
<rect x="560.50" y="386.90" width="1.85" height="12.40" fill="#4646f2"/>
<rect x="573.49" y="386.90" width="1.85" height="12.40" fill="#4646f2"/>
<rect x="586.47" y="386.90" width="1.85" height="12.40" fill="#4646f2"/>
<rect x="599.46" y="386.90" width="1.85" height="12.40" fill="#4646f2"/>
<rect x="612.44" y="386.90" width="1.85" height="12.40" fill="#4646f2"/>
<rect x="625.42" y="386.90" width="1.85" height="12.40" fill="#4646f2"/>
<rect x="638.41" y="386.90" width="1.85" height="12.40" fill="#4646f2"/>
<rect x="651.39" y="386.90" width="1.85" height="12.40" fill="#4646f2"/>
<rect x="664.38" y="386.90" width="1.85" height="12.40" fill="#4646f2"/>
<rect x="677.37" y="386.90" width="1.85" height="12.40" fill="#4646f2"/>
<rect x="80.06" y="397.80" width="609.70" height="1.7" fill="#4646f2"/>
<text x="48.69" y="395.40" text-anchor="middle" font-family='"Liberation Sans", sans-serif' font-weight="bold" font-size="8.6" fill="#1e1e1e" stroke="#1e1e1e" stroke-width="0.25">M</text>
<text x="61.68" y="395.40" text-anchor="middle" font-family='"Liberation Sans", sans-serif' font-weight="bold" font-size="8.6" fill="#1e1e1e" stroke="#1e1e1e" stroke-width="0.25">L</text>
<text x="74.66" y="395.40" text-anchor="middle" font-family='"Liberation Sans", sans-serif' font-weight="bold" font-size="8.6" fill="#1e1e1e" stroke="#1e1e1e" stroke-width="0.25">Q</text>
<text x="87.65" y="395.40" text-anchor="middle" font-family='"Liberation Sans", sans-serif' font-weight="bold" font-size="8.6" fill="#1e1e1e" stroke="#1e1e1e" stroke-width="0.25">R</text>
<text x="100.63" y="395.40" text-anchor="middle" font-family='"Liberation Sans", sans-serif' font-weight="bold" font-size="8.6" fill="#1e1e1e" stroke="#1e1e1e" stroke-width="0.25">S</text>
<text x="113.62" y="395.40" text-anchor="middle" font-family='"Liberation Sans", sans-serif' font-weight="bold" font-size="8.6" fill="#1e1e1e" stroke="#1e1e1e" stroke-width="0.25">R</text>
<text x="126.60" y="395.40" text-anchor="middle" font-family='"Liberation Sans", sans-serif' font-weight="bold" font-size="8.6" fill="#1e1e1e" stroke="#1e1e1e" stroke-width="0.25">P</text>
<text x="139.59" y="395.40" text-anchor="middle" font-family='"Liberation Sans", sans-serif' font-weight="bold" font-size="8.6" fill="#1e1e1e" stroke="#1e1e1e" stroke-width="0.25">D</text>
<text x="152.57" y="395.40" text-anchor="middle" font-family='"Liberation Sans", sans-serif' font-weight="bold" font-size="8.6" fill="#1e1e1e" stroke="#1e1e1e" stroke-width="0.25">I</text>
<text x="165.56" y="395.40" text-anchor="middle" font-family='"Liberation Sans", sans-serif' font-weight="bold" font-size="8.6" fill="#1e1e1e" stroke="#1e1e1e" stroke-width="0.25">D</text>
<text x="178.54" y="395.40" text-anchor="middle" font-family='"Liberation Sans", sans-serif' font-weight="bold" font-size="8.6" fill="#1e1e1e" stroke="#1e1e1e" stroke-width="0.25">L</text>
<text x="191.53" y="395.40" text-anchor="middle" font-family='"Liberation Sans", sans-serif' font-weight="bold" font-size="8.6" fill="#1e1e1e" stroke="#1e1e1e" stroke-width="0.25">S</text>
<text x="204.51" y="395.40" text-anchor="middle" font-family='"Liberation Sans", sans-serif' font-weight="bold" font-size="8.6" fill="#1e1e1e" stroke="#1e1e1e" stroke-width="0.25">T</text>
<text x="217.50" y="395.40" text-anchor="middle" font-family='"Liberation Sans", sans-serif' font-weight="bold" font-size="8.6" fill="#1e1e1e" stroke="#1e1e1e" stroke-width="0.25">P</text>
<text x="230.48" y="395.40" text-anchor="middle" font-family='"Liberation Sans", sans-serif' font-weight="bold" font-size="8.6" fill="#1e1e1e" stroke="#1e1e1e" stroke-width="0.25">S</text>
<text x="243.47" y="395.40" text-anchor="middle" font-family='"Liberation Sans", sans-serif' font-weight="bold" font-size="8.6" fill="#1e1e1e" stroke="#1e1e1e" stroke-width="0.25">I</text>
<text x="256.45" y="395.40" text-anchor="middle" font-family='"Liberation Sans", sans-serif' font-weight="bold" font-size="8.6" fill="#1e1e1e" stroke="#1e1e1e" stroke-width="0.25">K</text>
<text x="269.44" y="395.40" text-anchor="middle" font-family='"Liberation Sans", sans-serif' font-weight="bold" font-size="8.6" fill="#1e1e1e" stroke="#1e1e1e" stroke-width="0.25">R</text>
<text x="282.42" y="395.40" text-anchor="middle" font-family='"Liberation Sans", sans-serif' font-weight="bold" font-size="8.6" fill="#1e1e1e" stroke="#1e1e1e" stroke-width="0.25">D</text>
<text x="295.41" y="395.40" text-anchor="middle" font-family='"Liberation Sans", sans-serif' font-weight="bold" font-size="8.6" fill="#1e1e1e" stroke="#1e1e1e" stroke-width="0.25">A</text>
<text x="308.39" y="395.40" text-anchor="middle" font-family='"Liberation Sans", sans-serif' font-weight="bold" font-size="8.6" fill="#1e1e1e" stroke="#1e1e1e" stroke-width="0.25">D</text>
<text x="321.38" y="395.40" text-anchor="middle" font-family='"Liberation Sans", sans-serif' font-weight="bold" font-size="8.6" fill="#1e1e1e" stroke="#1e1e1e" stroke-width="0.25">A</text>
<text x="334.36" y="395.40" text-anchor="middle" font-family='"Liberation Sans", sans-serif' font-weight="bold" font-size="8.6" fill="#1e1e1e" stroke="#1e1e1e" stroke-width="0.25">A</text>
<text x="347.35" y="395.40" text-anchor="middle" font-family='"Liberation Sans", sans-serif' font-weight="bold" font-size="8.6" fill="#1e1e1e" stroke="#1e1e1e" stroke-width="0.25">A</text>
<text x="360.33" y="395.40" text-anchor="middle" font-family='"Liberation Sans", sans-serif' font-weight="bold" font-size="8.6" fill="#1e1e1e" stroke="#1e1e1e" stroke-width="0.25">A</text>
<text x="373.32" y="395.40" text-anchor="middle" font-family='"Liberation Sans", sans-serif' font-weight="bold" font-size="8.6" fill="#1e1e1e" stroke="#1e1e1e" stroke-width="0.25">A</text>
<text x="386.30" y="395.40" text-anchor="middle" font-family='"Liberation Sans", sans-serif' font-weight="bold" font-size="8.6" fill="#1e1e1e" stroke="#1e1e1e" stroke-width="0.25">A</text>
<text x="399.29" y="395.40" text-anchor="middle" font-family='"Liberation Sans", sans-serif' font-weight="bold" font-size="8.6" fill="#1e1e1e" stroke="#1e1e1e" stroke-width="0.25">A</text>
<text x="412.27" y="395.40" text-anchor="middle" font-family='"Liberation Sans", sans-serif' font-weight="bold" font-size="8.6" fill="#1e1e1e" stroke="#1e1e1e" stroke-width="0.25">K</text>
<text x="425.26" y="395.40" text-anchor="middle" font-family='"Liberation Sans", sans-serif' font-weight="bold" font-size="8.6" fill="#1e1e1e" stroke="#1e1e1e" stroke-width="0.25">D</text>
<text x="438.24" y="395.40" text-anchor="middle" font-family='"Liberation Sans", sans-serif' font-weight="bold" font-size="8.6" fill="#1e1e1e" stroke="#1e1e1e" stroke-width="0.25">E</text>
<text x="451.23" y="395.40" text-anchor="middle" font-family='"Liberation Sans", sans-serif' font-weight="bold" font-size="8.6" fill="#1e1e1e" stroke="#1e1e1e" stroke-width="0.25">P</text>
<text x="464.21" y="395.40" text-anchor="middle" font-family='"Liberation Sans", sans-serif' font-weight="bold" font-size="8.6" fill="#1e1e1e" stroke="#1e1e1e" stroke-width="0.25">K</text>
<text x="477.20" y="395.40" text-anchor="middle" font-family='"Liberation Sans", sans-serif' font-weight="bold" font-size="8.6" fill="#1e1e1e" stroke="#1e1e1e" stroke-width="0.25">L</text>
<text x="490.18" y="395.40" text-anchor="middle" font-family='"Liberation Sans", sans-serif' font-weight="bold" font-size="8.6" fill="#1e1e1e" stroke="#1e1e1e" stroke-width="0.25">S</text>
<text x="503.17" y="395.40" text-anchor="middle" font-family='"Liberation Sans", sans-serif' font-weight="bold" font-size="8.6" fill="#1e1e1e" stroke="#1e1e1e" stroke-width="0.25">S</text>
<text x="516.15" y="395.40" text-anchor="middle" font-family='"Liberation Sans", sans-serif' font-weight="bold" font-size="8.6" fill="#1e1e1e" stroke="#1e1e1e" stroke-width="0.25">S</text>
<text x="529.14" y="395.40" text-anchor="middle" font-family='"Liberation Sans", sans-serif' font-weight="bold" font-size="8.6" fill="#1e1e1e" stroke="#1e1e1e" stroke-width="0.25">V</text>
<text x="542.12" y="395.40" text-anchor="middle" font-family='"Liberation Sans", sans-serif' font-weight="bold" font-size="8.6" fill="#1e1e1e" stroke="#1e1e1e" stroke-width="0.25">I</text>
<text x="555.11" y="395.40" text-anchor="middle" font-family='"Liberation Sans", sans-serif' font-weight="bold" font-size="8.6" fill="#1e1e1e" stroke="#1e1e1e" stroke-width="0.25">D</text>
<text x="568.09" y="395.40" text-anchor="middle" font-family='"Liberation Sans", sans-serif' font-weight="bold" font-size="8.6" fill="#1e1e1e" stroke="#1e1e1e" stroke-width="0.25">P</text>
<text x="581.08" y="395.40" text-anchor="middle" font-family='"Liberation Sans", sans-serif' font-weight="bold" font-size="8.6" fill="#1e1e1e" stroke="#1e1e1e" stroke-width="0.25">A</text>
<text x="594.06" y="395.40" text-anchor="middle" font-family='"Liberation Sans", sans-serif' font-weight="bold" font-size="8.6" fill="#1e1e1e" stroke="#1e1e1e" stroke-width="0.25">L</text>
<text x="607.05" y="395.40" text-anchor="middle" font-family='"Liberation Sans", sans-serif' font-weight="bold" font-size="8.6" fill="#1e1e1e" stroke="#1e1e1e" stroke-width="0.25">S</text>
<text x="620.03" y="395.40" text-anchor="middle" font-family='"Liberation Sans", sans-serif' font-weight="bold" font-size="8.6" fill="#1e1e1e" stroke="#1e1e1e" stroke-width="0.25">R</text>
<text x="633.02" y="395.40" text-anchor="middle" font-family='"Liberation Sans", sans-serif' font-weight="bold" font-size="8.6" fill="#1e1e1e" stroke="#1e1e1e" stroke-width="0.25">A</text>
<text x="646.00" y="395.40" text-anchor="middle" font-family='"Liberation Sans", sans-serif' font-weight="bold" font-size="8.6" fill="#1e1e1e" stroke="#1e1e1e" stroke-width="0.25">S</text>
<text x="658.99" y="395.40" text-anchor="middle" font-family='"Liberation Sans", sans-serif' font-weight="bold" font-size="8.6" fill="#1e1e1e" stroke="#1e1e1e" stroke-width="0.25">A</text>
<text x="671.97" y="395.40" text-anchor="middle" font-family='"Liberation Sans", sans-serif' font-weight="bold" font-size="8.6" fill="#1e1e1e" stroke="#1e1e1e" stroke-width="0.25">D</text>
<text x="684.96" y="395.40" text-anchor="middle" font-family='"Liberation Sans", sans-serif' font-weight="bold" font-size="8.6" fill="#1e1e1e" stroke="#1e1e1e" stroke-width="0.25">M</text>
<rect x="42.95" y="400.80" width="11.13" height="12.40" fill="#d7d7d7"/>
<rect x="55.94" y="400.80" width="11.13" height="12.40" fill="#d7d7d7"/>
<rect x="68.92" y="400.80" width="11.13" height="12.40" fill="#d7d7d7"/>
<rect x="81.91" y="400.80" width="11.13" height="12.40" fill="#d7d7d7"/>
<rect x="94.89" y="400.80" width="11.13" height="12.40" fill="#d7d7d7"/>
<rect x="107.88" y="400.80" width="11.13" height="12.40" fill="#d7d7d7"/>
<rect x="120.86" y="400.80" width="11.13" height="12.40" fill="#d7d7d7"/>
<rect x="133.84" y="400.80" width="11.13" height="12.40" fill="#d7d7d7"/>
<rect x="146.83" y="400.80" width="11.13" height="12.40" fill="#d7d7d7"/>
<rect x="159.81" y="400.80" width="11.13" height="12.40" fill="#d7d7d7"/>
<rect x="172.80" y="400.80" width="11.13" height="12.40" fill="#d7d7d7"/>
<rect x="185.78" y="400.80" width="11.13" height="12.40" fill="#d7d7d7"/>
<rect x="198.77" y="400.80" width="11.13" height="12.40" fill="#d7d7d7"/>
<rect x="211.75" y="400.80" width="11.13" height="12.40" fill="#d7d7d7"/>
<rect x="224.74" y="400.80" width="11.13" height="12.40" fill="#d7d7d7"/>
<rect x="237.72" y="400.80" width="11.13" height="12.40" fill="#d7d7d7"/>
<rect x="250.71" y="400.80" width="11.13" height="12.40" fill="#d7d7d7"/>
<rect x="263.70" y="400.80" width="11.13" height="12.40" fill="#d7d7d7"/>
<rect x="276.68" y="400.80" width="11.13" height="12.40" fill="#d7d7d7"/>
<rect x="289.67" y="400.80" width="11.13" height="12.40" fill="#d7d7d7"/>
<rect x="302.65" y="400.80" width="11.13" height="12.40" fill="#d7d7d7"/>
<rect x="315.64" y="400.80" width="11.13" height="12.40" fill="#d7d7d7"/>
<rect x="328.62" y="400.80" width="11.13" height="12.40" fill="#d7d7d7"/>
<rect x="341.61" y="400.80" width="11.13" height="12.40" fill="#d7d7d7"/>
<rect x="354.59" y="400.80" width="11.13" height="12.40" fill="#d7d7d7"/>
<rect x="367.58" y="400.80" width="11.13" height="12.40" fill="#d7d7d7"/>
<rect x="380.56" y="400.80" width="11.13" height="12.40" fill="#d7d7d7"/>
<rect x="393.55" y="400.80" width="11.13" height="12.40" fill="#d7d7d7"/>
<rect x="406.53" y="400.80" width="11.13" height="12.40" fill="#d7d7d7"/>
<rect x="419.52" y="400.80" width="11.13" height="12.40" fill="#d7d7d7"/>
<rect x="432.50" y="400.80" width="11.13" height="12.40" fill="#d7d7d7"/>
<rect x="444.38" y="400.40" width="12.23" height="13.20" fill="#d7d7d7"/>
<rect x="457.37" y="400.40" width="12.23" height="13.20" fill="#f25cb4"/>
<rect x="470.36" y="400.40" width="12.23" height="13.20" fill="#f25cb4"/>
<rect x="483.34" y="400.40" width="12.23" height="13.20" fill="#f25cb4"/>
<rect x="496.32" y="400.40" width="12.23" height="13.20" fill="#f25cb4"/>
<rect x="509.31" y="400.40" width="12.23" height="13.20" fill="#f25cb4"/>
<rect x="522.29" y="400.40" width="12.23" height="13.20" fill="#f25cb4"/>
<rect x="535.28" y="400.40" width="12.23" height="13.20" fill="#f25cb4"/>
<rect x="548.26" y="400.40" width="12.23" height="13.20" fill="#f25cb4"/>
<rect x="561.25" y="400.40" width="12.23" height="13.20" fill="#f25cb4"/>
<rect x="574.24" y="400.40" width="12.23" height="13.20" fill="#f25cb4"/>
<rect x="587.22" y="400.40" width="12.23" height="13.20" fill="#f25cb4"/>
<rect x="600.21" y="400.40" width="12.23" height="13.20" fill="#f25cb4"/>
<rect x="613.19" y="400.40" width="12.23" height="13.20" fill="#f25cb4"/>
<rect x="626.17" y="400.40" width="12.23" height="13.20" fill="#f25cb4"/>
<rect x="639.16" y="400.40" width="12.23" height="13.20" fill="#f25cb4"/>
<rect x="652.14" y="400.40" width="12.23" height="13.20" fill="#f25cb4"/>
<rect x="665.13" y="400.40" width="12.23" height="13.20" fill="#f25cb4"/>
<rect x="678.12" y="400.40" width="12.23" height="13.20" fill="#f25cb4"/>
<rect x="41.10" y="399.30" width="1.85" height="15.40" fill="#4646f2"/>
<rect x="54.09" y="399.30" width="1.85" height="15.40" fill="#4646f2"/>
<rect x="67.07" y="399.30" width="1.85" height="15.40" fill="#4646f2"/>
<rect x="80.06" y="399.30" width="1.85" height="15.40" fill="#4646f2"/>
<rect x="93.04" y="399.30" width="1.85" height="15.40" fill="#4646f2"/>
<rect x="106.03" y="399.30" width="1.85" height="15.40" fill="#4646f2"/>
<rect x="119.01" y="399.30" width="1.85" height="15.40" fill="#4646f2"/>
<rect x="132.00" y="399.30" width="1.85" height="15.40" fill="#4646f2"/>
<rect x="144.98" y="399.30" width="1.85" height="15.40" fill="#4646f2"/>
<rect x="157.97" y="399.30" width="1.85" height="15.40" fill="#4646f2"/>
<rect x="170.95" y="399.30" width="1.85" height="15.40" fill="#4646f2"/>
<rect x="183.93" y="399.30" width="1.85" height="15.40" fill="#4646f2"/>
<rect x="196.92" y="399.30" width="1.85" height="15.40" fill="#4646f2"/>
<rect x="209.91" y="399.30" width="1.85" height="15.40" fill="#4646f2"/>
<rect x="222.89" y="399.30" width="1.85" height="15.40" fill="#4646f2"/>
<rect x="235.87" y="399.30" width="1.85" height="15.40" fill="#4646f2"/>
<rect x="248.86" y="399.30" width="1.85" height="15.40" fill="#4646f2"/>
<rect x="261.85" y="399.30" width="1.85" height="15.40" fill="#4646f2"/>
<rect x="274.83" y="399.30" width="1.85" height="15.40" fill="#4646f2"/>
<rect x="287.81" y="399.30" width="1.85" height="15.40" fill="#4646f2"/>
<rect x="300.80" y="399.30" width="1.85" height="15.40" fill="#4646f2"/>
<rect x="313.79" y="399.30" width="1.85" height="15.40" fill="#4646f2"/>
<rect x="326.77" y="399.30" width="1.85" height="15.40" fill="#4646f2"/>
<rect x="339.75" y="399.30" width="1.85" height="15.40" fill="#4646f2"/>
<rect x="352.74" y="399.30" width="1.85" height="15.40" fill="#4646f2"/>
<rect x="365.73" y="399.30" width="1.85" height="15.40" fill="#4646f2"/>
<rect x="378.71" y="399.30" width="1.85" height="15.40" fill="#4646f2"/>
<rect x="391.69" y="399.30" width="1.85" height="15.40" fill="#4646f2"/>
<rect x="404.68" y="399.30" width="1.85" height="15.40" fill="#4646f2"/>
<rect x="417.67" y="399.30" width="1.85" height="15.40" fill="#4646f2"/>
<rect x="430.65" y="399.30" width="1.85" height="15.40" fill="#4646f2"/>
<rect x="443.63" y="399.30" width="1.85" height="15.40" fill="#4646f2"/>
<rect x="41.10" y="399.10" width="404.38" height="1.7" fill="#4646f2"/>
<rect x="41.10" y="413.20" width="404.38" height="1.7" fill="#4646f2"/>
<text x="48.69" y="410.00" text-anchor="middle" font-family='"Liberation Sans", sans-serif' font-weight="bold" font-size="8.6" fill="#1e1e1e" stroke="#1e1e1e" stroke-width="0.25">D</text>
<text x="61.68" y="410.00" text-anchor="middle" font-family='"Liberation Sans", sans-serif' font-weight="bold" font-size="8.6" fill="#1e1e1e" stroke="#1e1e1e" stroke-width="0.25">E</text>
<text x="74.66" y="410.00" text-anchor="middle" font-family='"Liberation Sans", sans-serif' font-weight="bold" font-size="8.6" fill="#1e1e1e" stroke="#1e1e1e" stroke-width="0.25">D</text>
<text x="87.65" y="410.00" text-anchor="middle" font-family='"Liberation Sans", sans-serif' font-weight="bold" font-size="8.6" fill="#1e1e1e" stroke="#1e1e1e" stroke-width="0.25">A</text>
<text x="100.63" y="410.00" text-anchor="middle" font-family='"Liberation Sans", sans-serif' font-weight="bold" font-size="8.6" fill="#1e1e1e" stroke="#1e1e1e" stroke-width="0.25">A</text>
<text x="113.62" y="410.00" text-anchor="middle" font-family='"Liberation Sans", sans-serif' font-weight="bold" font-size="8.6" fill="#1e1e1e" stroke="#1e1e1e" stroke-width="0.25">P</text>
<text x="126.60" y="410.00" text-anchor="middle" font-family='"Liberation Sans", sans-serif' font-weight="bold" font-size="8.6" fill="#1e1e1e" stroke="#1e1e1e" stroke-width="0.25">R</text>
<text x="139.59" y="410.00" text-anchor="middle" font-family='"Liberation Sans", sans-serif' font-weight="bold" font-size="8.6" fill="#1e1e1e" stroke="#1e1e1e" stroke-width="0.25">R</text>
<text x="152.57" y="410.00" text-anchor="middle" font-family='"Liberation Sans", sans-serif' font-weight="bold" font-size="8.6" fill="#1e1e1e" stroke="#1e1e1e" stroke-width="0.25">S</text>
<text x="165.56" y="410.00" text-anchor="middle" font-family='"Liberation Sans", sans-serif' font-weight="bold" font-size="8.6" fill="#1e1e1e" stroke="#1e1e1e" stroke-width="0.25">P</text>
<text x="178.54" y="410.00" text-anchor="middle" font-family='"Liberation Sans", sans-serif' font-weight="bold" font-size="8.6" fill="#1e1e1e" stroke="#1e1e1e" stroke-width="0.25">S</text>
<text x="191.53" y="410.00" text-anchor="middle" font-family='"Liberation Sans", sans-serif' font-weight="bold" font-size="8.6" fill="#1e1e1e" stroke="#1e1e1e" stroke-width="0.25">S</text>
<text x="204.51" y="410.00" text-anchor="middle" font-family='"Liberation Sans", sans-serif' font-weight="bold" font-size="8.6" fill="#1e1e1e" stroke="#1e1e1e" stroke-width="0.25">T</text>
<text x="217.50" y="410.00" text-anchor="middle" font-family='"Liberation Sans", sans-serif' font-weight="bold" font-size="8.6" fill="#1e1e1e" stroke="#1e1e1e" stroke-width="0.25">P</text>
<text x="230.48" y="410.00" text-anchor="middle" font-family='"Liberation Sans", sans-serif' font-weight="bold" font-size="8.6" fill="#1e1e1e" stroke="#1e1e1e" stroke-width="0.25">T</text>
<text x="243.47" y="410.00" text-anchor="middle" font-family='"Liberation Sans", sans-serif' font-weight="bold" font-size="8.6" fill="#1e1e1e" stroke="#1e1e1e" stroke-width="0.25">P</text>
<text x="256.45" y="410.00" text-anchor="middle" font-family='"Liberation Sans", sans-serif' font-weight="bold" font-size="8.6" fill="#1e1e1e" stroke="#1e1e1e" stroke-width="0.25">T</text>
<text x="269.44" y="410.00" text-anchor="middle" font-family='"Liberation Sans", sans-serif' font-weight="bold" font-size="8.6" fill="#1e1e1e" stroke="#1e1e1e" stroke-width="0.25">A</text>
<text x="282.42" y="410.00" text-anchor="middle" font-family='"Liberation Sans", sans-serif' font-weight="bold" font-size="8.6" fill="#1e1e1e" stroke="#1e1e1e" stroke-width="0.25">T</text>
<text x="295.41" y="410.00" text-anchor="middle" font-family='"Liberation Sans", sans-serif' font-weight="bold" font-size="8.6" fill="#1e1e1e" stroke="#1e1e1e" stroke-width="0.25">T</text>
<text x="308.39" y="410.00" text-anchor="middle" font-family='"Liberation Sans", sans-serif' font-weight="bold" font-size="8.6" fill="#1e1e1e" stroke="#1e1e1e" stroke-width="0.25">A</text>
<text x="321.38" y="410.00" text-anchor="middle" font-family='"Liberation Sans", sans-serif' font-weight="bold" font-size="8.6" fill="#1e1e1e" stroke="#1e1e1e" stroke-width="0.25">A</text>
<text x="334.36" y="410.00" text-anchor="middle" font-family='"Liberation Sans", sans-serif' font-weight="bold" font-size="8.6" fill="#1e1e1e" stroke="#1e1e1e" stroke-width="0.25">A</text>
<text x="347.35" y="410.00" text-anchor="middle" font-family='"Liberation Sans", sans-serif' font-weight="bold" font-size="8.6" fill="#1e1e1e" stroke="#1e1e1e" stroke-width="0.25">A</text>
<text x="360.33" y="410.00" text-anchor="middle" font-family='"Liberation Sans", sans-serif' font-weight="bold" font-size="8.6" fill="#1e1e1e" stroke="#1e1e1e" stroke-width="0.25">G</text>
<text x="373.32" y="410.00" text-anchor="middle" font-family='"Liberation Sans", sans-serif' font-weight="bold" font-size="8.6" fill="#1e1e1e" stroke="#1e1e1e" stroke-width="0.25">P</text>
<text x="386.30" y="410.00" text-anchor="middle" font-family='"Liberation Sans", sans-serif' font-weight="bold" font-size="8.6" fill="#1e1e1e" stroke="#1e1e1e" stroke-width="0.25">D</text>
<text x="399.29" y="410.00" text-anchor="middle" font-family='"Liberation Sans", sans-serif' font-weight="bold" font-size="8.6" fill="#1e1e1e" stroke="#1e1e1e" stroke-width="0.25">D</text>
<text x="412.27" y="410.00" text-anchor="middle" font-family='"Liberation Sans", sans-serif' font-weight="bold" font-size="8.6" fill="#1e1e1e" stroke="#1e1e1e" stroke-width="0.25">R</text>
<text x="425.26" y="410.00" text-anchor="middle" font-family='"Liberation Sans", sans-serif' font-weight="bold" font-size="8.6" fill="#1e1e1e" stroke="#1e1e1e" stroke-width="0.25">Q</text>
<text x="438.24" y="410.00" text-anchor="middle" font-family='"Liberation Sans", sans-serif' font-weight="bold" font-size="8.6" fill="#1e1e1e" stroke="#1e1e1e" stroke-width="0.25">P</text>
<text x="451.23" y="410.00" text-anchor="middle" font-family='"Liberation Sans", sans-serif' font-weight="bold" font-size="8.6" fill="#1e1e1e" stroke="#1e1e1e" stroke-width="0.25">V</text>
<text x="464.21" y="410.00" text-anchor="middle" font-family='"Liberation Sans", sans-serif' font-weight="bold" font-size="8.6" fill="#1e1e1e" stroke="#1e1e1e" stroke-width="0.25">G</text>
<text x="477.20" y="410.00" text-anchor="middle" font-family='"Liberation Sans", sans-serif' font-weight="bold" font-size="8.6" fill="#1e1e1e" stroke="#1e1e1e" stroke-width="0.25">E</text>
<text x="490.18" y="410.00" text-anchor="middle" font-family='"Liberation Sans", sans-serif' font-weight="bold" font-size="8.6" fill="#1e1e1e" stroke="#1e1e1e" stroke-width="0.25">Q</text>
<text x="503.17" y="410.00" text-anchor="middle" font-family='"Liberation Sans", sans-serif' font-weight="bold" font-size="8.6" fill="#1e1e1e" stroke="#1e1e1e" stroke-width="0.25">Q</text>
<text x="516.15" y="410.00" text-anchor="middle" font-family='"Liberation Sans", sans-serif' font-weight="bold" font-size="8.6" fill="#1e1e1e" stroke="#1e1e1e" stroke-width="0.25">W</text>
<text x="529.14" y="410.00" text-anchor="middle" font-family='"Liberation Sans", sans-serif' font-weight="bold" font-size="8.6" fill="#1e1e1e" stroke="#1e1e1e" stroke-width="0.25">V</text>
<text x="542.12" y="410.00" text-anchor="middle" font-family='"Liberation Sans", sans-serif' font-weight="bold" font-size="8.6" fill="#1e1e1e" stroke="#1e1e1e" stroke-width="0.25">E</text>
<text x="555.11" y="410.00" text-anchor="middle" font-family='"Liberation Sans", sans-serif' font-weight="bold" font-size="8.6" fill="#1e1e1e" stroke="#1e1e1e" stroke-width="0.25">N</text>
<text x="568.09" y="410.00" text-anchor="middle" font-family='"Liberation Sans", sans-serif' font-weight="bold" font-size="8.6" fill="#1e1e1e" stroke="#1e1e1e" stroke-width="0.25">V</text>
<text x="581.08" y="410.00" text-anchor="middle" font-family='"Liberation Sans", sans-serif' font-weight="bold" font-size="8.6" fill="#1e1e1e" stroke="#1e1e1e" stroke-width="0.25">R</text>
<text x="594.06" y="410.00" text-anchor="middle" font-family='"Liberation Sans", sans-serif' font-weight="bold" font-size="8.6" fill="#1e1e1e" stroke="#1e1e1e" stroke-width="0.25">L</text>
<text x="607.05" y="410.00" text-anchor="middle" font-family='"Liberation Sans", sans-serif' font-weight="bold" font-size="8.6" fill="#1e1e1e" stroke="#1e1e1e" stroke-width="0.25">L</text>
<text x="620.03" y="410.00" text-anchor="middle" font-family='"Liberation Sans", sans-serif' font-weight="bold" font-size="8.6" fill="#1e1e1e" stroke="#1e1e1e" stroke-width="0.25">Q</text>
<text x="633.02" y="410.00" text-anchor="middle" font-family='"Liberation Sans", sans-serif' font-weight="bold" font-size="8.6" fill="#1e1e1e" stroke="#1e1e1e" stroke-width="0.25">R</text>
<text x="646.00" y="410.00" text-anchor="middle" font-family='"Liberation Sans", sans-serif' font-weight="bold" font-size="8.6" fill="#1e1e1e" stroke="#1e1e1e" stroke-width="0.25">L</text>
<text x="658.99" y="410.00" text-anchor="middle" font-family='"Liberation Sans", sans-serif' font-weight="bold" font-size="8.6" fill="#1e1e1e" stroke="#1e1e1e" stroke-width="0.25">R</text>
<text x="671.97" y="410.00" text-anchor="middle" font-family='"Liberation Sans", sans-serif' font-weight="bold" font-size="8.6" fill="#1e1e1e" stroke="#1e1e1e" stroke-width="0.25">D</text>
<text x="684.96" y="410.00" text-anchor="middle" font-family='"Liberation Sans", sans-serif' font-weight="bold" font-size="8.6" fill="#1e1e1e" stroke="#1e1e1e" stroke-width="0.25">Y</text>
<rect x="41.85" y="415.70" width="12.23" height="13.40" fill="#f25cb4"/>
<rect x="54.84" y="415.70" width="12.23" height="13.40" fill="#f25cb4"/>
<rect x="67.82" y="415.70" width="12.23" height="13.40" fill="#f25cb4"/>
<rect x="80.81" y="415.70" width="12.23" height="13.40" fill="#f25cb4"/>
<rect x="93.79" y="415.70" width="12.23" height="13.40" fill="#f25cb4"/>
<rect x="106.78" y="415.70" width="12.23" height="13.40" fill="#f25cb4"/>
<rect x="119.76" y="415.70" width="12.23" height="13.40" fill="#d7d7d7"/>
<rect x="132.75" y="415.70" width="12.23" height="13.40" fill="#d7d7d7"/>
<rect x="145.73" y="415.70" width="12.23" height="13.40" fill="#d7d7d7"/>
<rect x="158.72" y="415.70" width="12.23" height="13.40" fill="#d7d7d7"/>
<rect x="171.70" y="415.70" width="12.23" height="13.40" fill="#d7d7d7"/>
<rect x="185.78" y="416.10" width="11.13" height="12.60" fill="#d7d7d7"/>
<rect x="198.77" y="416.10" width="11.13" height="12.60" fill="#d7d7d7"/>
<rect x="211.75" y="416.10" width="11.13" height="12.60" fill="#d7d7d7"/>
<rect x="224.74" y="416.10" width="11.13" height="12.60" fill="#d7d7d7"/>
<rect x="237.72" y="416.10" width="11.13" height="12.60" fill="#d7d7d7"/>
<rect x="250.71" y="416.10" width="11.13" height="12.60" fill="#d7d7d7"/>
<rect x="263.70" y="416.10" width="11.13" height="12.60" fill="#d7d7d7"/>
<rect x="276.68" y="416.10" width="11.13" height="12.60" fill="#d7d7d7"/>
<rect x="289.67" y="416.10" width="11.13" height="12.60" fill="#d7d7d7"/>
<rect x="302.65" y="416.10" width="11.13" height="12.60" fill="#d7d7d7"/>
<rect x="315.64" y="416.10" width="11.13" height="12.60" fill="#f25cb4"/>
<rect x="328.62" y="416.10" width="11.13" height="12.60" fill="#f25cb4"/>
<rect x="341.61" y="416.10" width="11.13" height="12.60" fill="#f25cb4"/>
<rect x="354.59" y="416.10" width="11.13" height="12.60" fill="#f25cb4"/>
<rect x="367.58" y="416.10" width="11.13" height="12.60" fill="#f25cb4"/>
<rect x="380.56" y="416.10" width="11.13" height="12.60" fill="#d7d7d7"/>
<rect x="393.55" y="416.10" width="11.13" height="12.60" fill="#d7d7d7"/>
<rect x="406.53" y="416.10" width="11.13" height="12.60" fill="#d7d7d7"/>
<rect x="419.52" y="416.10" width="11.13" height="12.60" fill="#d7d7d7"/>
<rect x="432.50" y="416.10" width="11.13" height="12.60" fill="#d7d7d7"/>
<rect x="445.49" y="416.10" width="11.13" height="12.60" fill="#d7d7d7"/>
<rect x="458.47" y="416.10" width="11.13" height="12.60" fill="#d7d7d7"/>
<rect x="471.46" y="416.10" width="11.13" height="12.60" fill="#d7d7d7"/>
<rect x="484.44" y="416.10" width="11.13" height="12.60" fill="#d7d7d7"/>
<rect x="497.43" y="416.10" width="11.13" height="12.60" fill="#d7d7d7"/>
<rect x="510.41" y="416.10" width="11.13" height="12.60" fill="#f25cb4"/>
<rect x="523.39" y="416.10" width="11.13" height="12.60" fill="#f25cb4"/>
<rect x="536.38" y="416.10" width="11.13" height="12.60" fill="#f25cb4"/>
<rect x="549.37" y="416.10" width="11.13" height="12.60" fill="#f25cb4"/>
<rect x="562.35" y="416.10" width="11.13" height="12.60" fill="#f25cb4"/>
<rect x="575.34" y="416.10" width="11.13" height="12.60" fill="#f25cb4"/>
<rect x="588.32" y="416.10" width="11.13" height="12.60" fill="#f25cb4"/>
<rect x="601.31" y="416.10" width="11.13" height="12.60" fill="#d7d7d7"/>
<rect x="614.29" y="416.10" width="11.13" height="12.60" fill="#d7d7d7"/>
<rect x="627.27" y="416.10" width="11.13" height="12.60" fill="#d7d7d7"/>
<rect x="640.26" y="416.10" width="11.13" height="12.60" fill="#d7d7d7"/>
<rect x="653.25" y="416.10" width="11.13" height="12.60" fill="#d7d7d7"/>
<rect x="666.23" y="416.10" width="11.13" height="12.60" fill="#d7d7d7"/>
<rect x="679.22" y="416.10" width="11.13" height="12.60" fill="#f25cb4"/>
<rect x="183.93" y="414.60" width="1.85" height="15.60" fill="#4646f2"/>
<rect x="196.92" y="414.60" width="1.85" height="15.60" fill="#4646f2"/>
<rect x="209.91" y="414.60" width="1.85" height="15.60" fill="#4646f2"/>
<rect x="222.89" y="414.60" width="1.85" height="15.60" fill="#4646f2"/>
<rect x="235.87" y="414.60" width="1.85" height="15.60" fill="#4646f2"/>
<rect x="248.86" y="414.60" width="1.85" height="15.60" fill="#4646f2"/>
<rect x="261.85" y="414.60" width="1.85" height="15.60" fill="#4646f2"/>
<rect x="274.83" y="414.60" width="1.85" height="15.60" fill="#4646f2"/>
<rect x="287.81" y="414.60" width="1.85" height="15.60" fill="#4646f2"/>
<rect x="300.80" y="414.60" width="1.85" height="15.60" fill="#4646f2"/>
<rect x="313.79" y="414.60" width="1.85" height="15.60" fill="#4646f2"/>
<rect x="326.77" y="414.60" width="1.85" height="15.60" fill="#4646f2"/>
<rect x="339.75" y="414.60" width="1.85" height="15.60" fill="#4646f2"/>
<rect x="352.74" y="414.60" width="1.85" height="15.60" fill="#4646f2"/>
<rect x="365.73" y="414.60" width="1.85" height="15.60" fill="#4646f2"/>
<rect x="378.71" y="414.60" width="1.85" height="15.60" fill="#4646f2"/>
<rect x="391.69" y="414.60" width="1.85" height="15.60" fill="#4646f2"/>
<rect x="404.68" y="414.60" width="1.85" height="15.60" fill="#4646f2"/>
<rect x="417.67" y="414.60" width="1.85" height="15.60" fill="#4646f2"/>
<rect x="430.65" y="414.60" width="1.85" height="15.60" fill="#4646f2"/>
<rect x="443.63" y="414.60" width="1.85" height="15.60" fill="#4646f2"/>
<rect x="456.62" y="414.60" width="1.85" height="15.60" fill="#4646f2"/>
<rect x="469.61" y="414.60" width="1.85" height="15.60" fill="#4646f2"/>
<rect x="482.59" y="414.60" width="1.85" height="15.60" fill="#4646f2"/>
<rect x="495.57" y="414.60" width="1.85" height="15.60" fill="#4646f2"/>
<rect x="508.56" y="414.60" width="1.85" height="15.60" fill="#4646f2"/>
<rect x="521.54" y="414.60" width="1.85" height="15.60" fill="#4646f2"/>
<rect x="534.53" y="414.60" width="1.85" height="15.60" fill="#4646f2"/>
<rect x="547.51" y="414.60" width="1.85" height="15.60" fill="#4646f2"/>
<rect x="560.50" y="414.60" width="1.85" height="15.60" fill="#4646f2"/>
<rect x="573.49" y="414.60" width="1.85" height="15.60" fill="#4646f2"/>
<rect x="586.47" y="414.60" width="1.85" height="15.60" fill="#4646f2"/>
<rect x="599.46" y="414.60" width="1.85" height="15.60" fill="#4646f2"/>
<rect x="612.44" y="414.60" width="1.85" height="15.60" fill="#4646f2"/>
<rect x="625.42" y="414.60" width="1.85" height="15.60" fill="#4646f2"/>
<rect x="638.41" y="414.60" width="1.85" height="15.60" fill="#4646f2"/>
<rect x="651.39" y="414.60" width="1.85" height="15.60" fill="#4646f2"/>
<rect x="664.38" y="414.60" width="1.85" height="15.60" fill="#4646f2"/>
<rect x="677.37" y="414.60" width="1.85" height="15.60" fill="#4646f2"/>
<rect x="183.93" y="414.40" width="505.82" height="1.7" fill="#4646f2"/>
<rect x="183.93" y="428.70" width="505.82" height="1.7" fill="#4646f2"/>
<text x="48.69" y="425.40" text-anchor="middle" font-family='"Liberation Sans", sans-serif' font-weight="bold" font-size="8.6" fill="#1e1e1e" stroke="#1e1e1e" stroke-width="0.25">V</text>
<text x="61.68" y="425.40" text-anchor="middle" font-family='"Liberation Sans", sans-serif' font-weight="bold" font-size="8.6" fill="#1e1e1e" stroke="#1e1e1e" stroke-width="0.25">L</text>
<text x="74.66" y="425.40" text-anchor="middle" font-family='"Liberation Sans", sans-serif' font-weight="bold" font-size="8.6" fill="#1e1e1e" stroke="#1e1e1e" stroke-width="0.25">E</text>
<text x="87.65" y="425.40" text-anchor="middle" font-family='"Liberation Sans", sans-serif' font-weight="bold" font-size="8.6" fill="#1e1e1e" stroke="#1e1e1e" stroke-width="0.25">R</text>
<text x="100.63" y="425.40" text-anchor="middle" font-family='"Liberation Sans", sans-serif' font-weight="bold" font-size="8.6" fill="#1e1e1e" stroke="#1e1e1e" stroke-width="0.25">L</text>
<text x="113.62" y="425.40" text-anchor="middle" font-family='"Liberation Sans", sans-serif' font-weight="bold" font-size="8.6" fill="#1e1e1e" stroke="#1e1e1e" stroke-width="0.25">N</text>
<text x="126.60" y="425.40" text-anchor="middle" font-family='"Liberation Sans", sans-serif' font-weight="bold" font-size="8.6" fill="#1e1e1e" stroke="#1e1e1e" stroke-width="0.25">N</text>
<text x="139.59" y="425.40" text-anchor="middle" font-family='"Liberation Sans", sans-serif' font-weight="bold" font-size="8.6" fill="#1e1e1e" stroke="#1e1e1e" stroke-width="0.25">G</text>
<text x="152.57" y="425.40" text-anchor="middle" font-family='"Liberation Sans", sans-serif' font-weight="bold" font-size="8.6" fill="#1e1e1e" stroke="#1e1e1e" stroke-width="0.25">D</text>
<text x="165.56" y="425.40" text-anchor="middle" font-family='"Liberation Sans", sans-serif' font-weight="bold" font-size="8.6" fill="#1e1e1e" stroke="#1e1e1e" stroke-width="0.25">Y</text>
<text x="178.54" y="425.40" text-anchor="middle" font-family='"Liberation Sans", sans-serif' font-weight="bold" font-size="8.6" fill="#1e1e1e" stroke="#1e1e1e" stroke-width="0.25">V</text>
<text x="191.53" y="425.40" text-anchor="middle" font-family='"Liberation Sans", sans-serif' font-weight="bold" font-size="8.6" fill="#1e1e1e" stroke="#1e1e1e" stroke-width="0.25">D</text>
<text x="204.51" y="425.40" text-anchor="middle" font-family='"Liberation Sans", sans-serif' font-weight="bold" font-size="8.6" fill="#1e1e1e" stroke="#1e1e1e" stroke-width="0.25">E</text>
<text x="217.50" y="425.40" text-anchor="middle" font-family='"Liberation Sans", sans-serif' font-weight="bold" font-size="8.6" fill="#1e1e1e" stroke="#1e1e1e" stroke-width="0.25">D</text>
<text x="230.48" y="425.40" text-anchor="middle" font-family='"Liberation Sans", sans-serif' font-weight="bold" font-size="8.6" fill="#1e1e1e" stroke="#1e1e1e" stroke-width="0.25">K</text>
<text x="243.47" y="425.40" text-anchor="middle" font-family='"Liberation Sans", sans-serif' font-weight="bold" font-size="8.6" fill="#1e1e1e" stroke="#1e1e1e" stroke-width="0.25">Q</text>
<text x="256.45" y="425.40" text-anchor="middle" font-family='"Liberation Sans", sans-serif' font-weight="bold" font-size="8.6" fill="#1e1e1e" stroke="#1e1e1e" stroke-width="0.25">E</text>
<text x="269.44" y="425.40" text-anchor="middle" font-family='"Liberation Sans", sans-serif' font-weight="bold" font-size="8.6" fill="#1e1e1e" stroke="#1e1e1e" stroke-width="0.25">D</text>
<text x="282.42" y="425.40" text-anchor="middle" font-family='"Liberation Sans", sans-serif' font-weight="bold" font-size="8.6" fill="#1e1e1e" stroke="#1e1e1e" stroke-width="0.25">S</text>
<text x="295.41" y="425.40" text-anchor="middle" font-family='"Liberation Sans", sans-serif' font-weight="bold" font-size="8.6" fill="#1e1e1e" stroke="#1e1e1e" stroke-width="0.25">D</text>
<text x="308.39" y="425.40" text-anchor="middle" font-family='"Liberation Sans", sans-serif' font-weight="bold" font-size="8.6" fill="#1e1e1e" stroke="#1e1e1e" stroke-width="0.25">K</text>
<text x="321.38" y="425.40" text-anchor="middle" font-family='"Liberation Sans", sans-serif' font-weight="bold" font-size="8.6" fill="#1e1e1e" stroke="#1e1e1e" stroke-width="0.25">E</text>
<text x="334.36" y="425.40" text-anchor="middle" font-family='"Liberation Sans", sans-serif' font-weight="bold" font-size="8.6" fill="#1e1e1e" stroke="#1e1e1e" stroke-width="0.25">E</text>
<text x="347.35" y="425.40" text-anchor="middle" font-family='"Liberation Sans", sans-serif' font-weight="bold" font-size="8.6" fill="#1e1e1e" stroke="#1e1e1e" stroke-width="0.25">D</text>
<text x="360.33" y="425.40" text-anchor="middle" font-family='"Liberation Sans", sans-serif' font-weight="bold" font-size="8.6" fill="#1e1e1e" stroke="#1e1e1e" stroke-width="0.25">A</text>
<text x="373.32" y="425.40" text-anchor="middle" font-family='"Liberation Sans", sans-serif' font-weight="bold" font-size="8.6" fill="#1e1e1e" stroke="#1e1e1e" stroke-width="0.25">K</text>
<text x="386.30" y="425.40" text-anchor="middle" font-family='"Liberation Sans", sans-serif' font-weight="bold" font-size="8.6" fill="#1e1e1e" stroke="#1e1e1e" stroke-width="0.25">T</text>
<text x="399.29" y="425.40" text-anchor="middle" font-family='"Liberation Sans", sans-serif' font-weight="bold" font-size="8.6" fill="#1e1e1e" stroke="#1e1e1e" stroke-width="0.25">D</text>
<text x="412.27" y="425.40" text-anchor="middle" font-family='"Liberation Sans", sans-serif' font-weight="bold" font-size="8.6" fill="#1e1e1e" stroke="#1e1e1e" stroke-width="0.25">K</text>
<text x="425.26" y="425.40" text-anchor="middle" font-family='"Liberation Sans", sans-serif' font-weight="bold" font-size="8.6" fill="#1e1e1e" stroke="#1e1e1e" stroke-width="0.25">A</text>
<text x="438.24" y="425.40" text-anchor="middle" font-family='"Liberation Sans", sans-serif' font-weight="bold" font-size="8.6" fill="#1e1e1e" stroke="#1e1e1e" stroke-width="0.25">S</text>
<text x="451.23" y="425.40" text-anchor="middle" font-family='"Liberation Sans", sans-serif' font-weight="bold" font-size="8.6" fill="#1e1e1e" stroke="#1e1e1e" stroke-width="0.25">P</text>
<text x="464.21" y="425.40" text-anchor="middle" font-family='"Liberation Sans", sans-serif' font-weight="bold" font-size="8.6" fill="#1e1e1e" stroke="#1e1e1e" stroke-width="0.25">G</text>
<text x="477.20" y="425.40" text-anchor="middle" font-family='"Liberation Sans", sans-serif' font-weight="bold" font-size="8.6" fill="#1e1e1e" stroke="#1e1e1e" stroke-width="0.25">S</text>
<text x="490.18" y="425.40" text-anchor="middle" font-family='"Liberation Sans", sans-serif' font-weight="bold" font-size="8.6" fill="#1e1e1e" stroke="#1e1e1e" stroke-width="0.25">A</text>
<text x="503.17" y="425.40" text-anchor="middle" font-family='"Liberation Sans", sans-serif' font-weight="bold" font-size="8.6" fill="#1e1e1e" stroke="#1e1e1e" stroke-width="0.25">S</text>
<text x="516.15" y="425.40" text-anchor="middle" font-family='"Liberation Sans", sans-serif' font-weight="bold" font-size="8.6" fill="#1e1e1e" stroke="#1e1e1e" stroke-width="0.25">A</text>
<text x="529.14" y="425.40" text-anchor="middle" font-family='"Liberation Sans", sans-serif' font-weight="bold" font-size="8.6" fill="#1e1e1e" stroke="#1e1e1e" stroke-width="0.25">S</text>
<text x="542.12" y="425.40" text-anchor="middle" font-family='"Liberation Sans", sans-serif' font-weight="bold" font-size="8.6" fill="#1e1e1e" stroke="#1e1e1e" stroke-width="0.25">D</text>
<text x="555.11" y="425.40" text-anchor="middle" font-family='"Liberation Sans", sans-serif' font-weight="bold" font-size="8.6" fill="#1e1e1e" stroke="#1e1e1e" stroke-width="0.25">A</text>
<text x="568.09" y="425.40" text-anchor="middle" font-family='"Liberation Sans", sans-serif' font-weight="bold" font-size="8.6" fill="#1e1e1e" stroke="#1e1e1e" stroke-width="0.25">A</text>
<text x="581.08" y="425.40" text-anchor="middle" font-family='"Liberation Sans", sans-serif' font-weight="bold" font-size="8.6" fill="#1e1e1e" stroke="#1e1e1e" stroke-width="0.25">T</text>
<text x="594.06" y="425.40" text-anchor="middle" font-family='"Liberation Sans", sans-serif' font-weight="bold" font-size="8.6" fill="#1e1e1e" stroke="#1e1e1e" stroke-width="0.25">R</text>
<text x="607.05" y="425.40" text-anchor="middle" font-family='"Liberation Sans", sans-serif' font-weight="bold" font-size="8.6" fill="#1e1e1e" stroke="#1e1e1e" stroke-width="0.25">A</text>
<text x="620.03" y="425.40" text-anchor="middle" font-family='"Liberation Sans", sans-serif' font-weight="bold" font-size="8.6" fill="#1e1e1e" stroke="#1e1e1e" stroke-width="0.25">G</text>
<text x="633.02" y="425.40" text-anchor="middle" font-family='"Liberation Sans", sans-serif' font-weight="bold" font-size="8.6" fill="#1e1e1e" stroke="#1e1e1e" stroke-width="0.25">E</text>
<text x="646.00" y="425.40" text-anchor="middle" font-family='"Liberation Sans", sans-serif' font-weight="bold" font-size="8.6" fill="#1e1e1e" stroke="#1e1e1e" stroke-width="0.25">Y</text>
<text x="658.99" y="425.40" text-anchor="middle" font-family='"Liberation Sans", sans-serif' font-weight="bold" font-size="8.6" fill="#1e1e1e" stroke="#1e1e1e" stroke-width="0.25">P</text>
<text x="671.97" y="425.40" text-anchor="middle" font-family='"Liberation Sans", sans-serif' font-weight="bold" font-size="8.6" fill="#1e1e1e" stroke="#1e1e1e" stroke-width="0.25">S</text>
<text x="684.96" y="425.40" text-anchor="middle" font-family='"Liberation Sans", sans-serif' font-weight="bold" font-size="8.6" fill="#1e1e1e" stroke="#1e1e1e" stroke-width="0.25">I</text>
<rect x="42.95" y="431.70" width="11.13" height="12.50" fill="#f25cb4"/>
<rect x="55.94" y="431.70" width="11.13" height="12.50" fill="#f25cb4"/>
<rect x="68.92" y="431.70" width="11.13" height="12.50" fill="#d7d7d7"/>
<rect x="81.91" y="431.70" width="11.13" height="12.50" fill="#d7d7d7"/>
<rect x="94.89" y="431.70" width="11.13" height="12.50" fill="#f25cb4"/>
<rect x="107.88" y="431.70" width="11.13" height="12.50" fill="#f25cb4"/>
<rect x="120.86" y="431.70" width="11.13" height="12.50" fill="#f25cb4"/>
<rect x="133.84" y="431.70" width="11.13" height="12.50" fill="#f25cb4"/>
<rect x="146.83" y="431.70" width="11.13" height="12.50" fill="#f25cb4"/>
<rect x="159.81" y="431.70" width="11.13" height="12.50" fill="#f25cb4"/>
<rect x="172.80" y="431.70" width="11.13" height="12.50" fill="#f25cb4"/>
<rect x="185.78" y="431.70" width="11.13" height="12.50" fill="#f25cb4"/>
<rect x="198.77" y="431.70" width="11.13" height="12.50" fill="#f25cb4"/>
<rect x="211.75" y="431.70" width="11.13" height="12.50" fill="#f25cb4"/>
<rect x="224.74" y="431.70" width="11.13" height="12.50" fill="#f25cb4"/>
<rect x="237.72" y="431.70" width="11.13" height="12.50" fill="#f25cb4"/>
<rect x="250.71" y="431.70" width="11.13" height="12.50" fill="#d7d7d7"/>
<rect x="263.70" y="431.70" width="11.13" height="12.50" fill="#d7d7d7"/>
<rect x="276.68" y="431.70" width="11.13" height="12.50" fill="#d7d7d7"/>
<rect x="289.67" y="431.70" width="11.13" height="12.50" fill="#d7d7d7"/>
<rect x="302.65" y="431.70" width="11.13" height="12.50" fill="#d7d7d7"/>
<rect x="315.64" y="431.70" width="11.13" height="12.50" fill="#d7d7d7"/>
<rect x="328.62" y="431.70" width="11.13" height="12.50" fill="#d7d7d7"/>
<rect x="341.61" y="431.70" width="11.13" height="12.50" fill="#d7d7d7"/>
<rect x="354.59" y="431.70" width="11.13" height="12.50" fill="#d7d7d7"/>
<rect x="367.58" y="431.70" width="11.13" height="12.50" fill="#d7d7d7"/>
<rect x="380.56" y="431.70" width="11.13" height="12.50" fill="#d7d7d7"/>
<rect x="393.55" y="431.70" width="11.13" height="12.50" fill="#d7d7d7"/>
<rect x="406.53" y="431.70" width="11.13" height="12.50" fill="#d7d7d7"/>
<rect x="419.52" y="431.70" width="11.13" height="12.50" fill="#d7d7d7"/>
<rect x="432.50" y="431.70" width="11.13" height="12.50" fill="#d7d7d7"/>
<rect x="445.49" y="431.70" width="11.13" height="12.50" fill="#d7d7d7"/>
<rect x="458.47" y="431.70" width="11.13" height="12.50" fill="#d7d7d7"/>
<rect x="471.46" y="431.70" width="11.13" height="12.50" fill="#d7d7d7"/>
<rect x="484.44" y="431.70" width="11.13" height="12.50" fill="#d7d7d7"/>
<rect x="497.43" y="431.70" width="11.13" height="12.50" fill="#d7d7d7"/>
<rect x="510.41" y="431.70" width="11.13" height="12.50" fill="#d7d7d7"/>
<rect x="523.39" y="431.70" width="11.13" height="12.50" fill="#d7d7d7"/>
<rect x="536.38" y="431.70" width="11.13" height="12.50" fill="#d7d7d7"/>
<rect x="549.37" y="431.70" width="11.13" height="12.50" fill="#d7d7d7"/>
<rect x="562.35" y="431.70" width="11.13" height="12.50" fill="#d7d7d7"/>
<rect x="575.34" y="431.70" width="11.13" height="12.50" fill="#d7d7d7"/>
<rect x="588.32" y="431.70" width="11.13" height="12.50" fill="#d7d7d7"/>
<rect x="601.31" y="431.70" width="11.13" height="12.50" fill="#d7d7d7"/>
<rect x="614.29" y="431.70" width="11.13" height="12.50" fill="#d7d7d7"/>
<rect x="627.27" y="431.70" width="11.13" height="12.50" fill="#d7d7d7"/>
<rect x="640.26" y="431.70" width="11.13" height="12.50" fill="#f25cb4"/>
<rect x="653.25" y="431.70" width="11.13" height="12.50" fill="#f25cb4"/>
<rect x="666.23" y="431.70" width="11.13" height="12.50" fill="#f25cb4"/>
<rect x="679.22" y="431.70" width="11.13" height="12.50" fill="#f25cb4"/>
<rect x="41.10" y="430.20" width="1.85" height="15.50" fill="#4646f2"/>
<rect x="54.09" y="430.20" width="1.85" height="15.50" fill="#4646f2"/>
<rect x="67.07" y="430.20" width="1.85" height="15.50" fill="#4646f2"/>
<rect x="80.06" y="430.20" width="1.85" height="15.50" fill="#4646f2"/>
<rect x="93.04" y="430.20" width="1.85" height="15.50" fill="#4646f2"/>
<rect x="106.03" y="430.20" width="1.85" height="15.50" fill="#4646f2"/>
<rect x="119.01" y="430.20" width="1.85" height="15.50" fill="#4646f2"/>
<rect x="132.00" y="430.20" width="1.85" height="15.50" fill="#4646f2"/>
<rect x="144.98" y="430.20" width="1.85" height="15.50" fill="#4646f2"/>
<rect x="157.97" y="430.20" width="1.85" height="15.50" fill="#4646f2"/>
<rect x="170.95" y="430.20" width="1.85" height="15.50" fill="#4646f2"/>
<rect x="183.93" y="430.20" width="1.85" height="15.50" fill="#4646f2"/>
<rect x="196.92" y="430.20" width="1.85" height="15.50" fill="#4646f2"/>
<rect x="209.91" y="430.20" width="1.85" height="15.50" fill="#4646f2"/>
<rect x="222.89" y="430.20" width="1.85" height="15.50" fill="#4646f2"/>
<rect x="235.87" y="430.20" width="1.85" height="15.50" fill="#4646f2"/>
<rect x="248.86" y="430.20" width="1.85" height="15.50" fill="#4646f2"/>
<rect x="261.85" y="430.20" width="1.85" height="15.50" fill="#4646f2"/>
<rect x="274.83" y="430.20" width="1.85" height="15.50" fill="#4646f2"/>
<rect x="287.81" y="430.20" width="1.85" height="15.50" fill="#4646f2"/>
<rect x="300.80" y="430.20" width="1.85" height="15.50" fill="#4646f2"/>
<rect x="313.79" y="430.20" width="1.85" height="15.50" fill="#4646f2"/>
<rect x="326.77" y="430.20" width="1.85" height="15.50" fill="#4646f2"/>
<rect x="339.75" y="430.20" width="1.85" height="15.50" fill="#4646f2"/>
<rect x="352.74" y="430.20" width="1.85" height="15.50" fill="#4646f2"/>
<rect x="365.73" y="430.20" width="1.85" height="15.50" fill="#4646f2"/>
<rect x="378.71" y="430.20" width="1.85" height="15.50" fill="#4646f2"/>
<rect x="391.69" y="430.20" width="1.85" height="15.50" fill="#4646f2"/>
<rect x="404.68" y="430.20" width="1.85" height="15.50" fill="#4646f2"/>
<rect x="417.67" y="430.20" width="1.85" height="15.50" fill="#4646f2"/>
<rect x="430.65" y="430.20" width="1.85" height="15.50" fill="#4646f2"/>
<rect x="443.63" y="430.20" width="1.85" height="15.50" fill="#4646f2"/>
<rect x="456.62" y="430.20" width="1.85" height="15.50" fill="#4646f2"/>
<rect x="469.61" y="430.20" width="1.85" height="15.50" fill="#4646f2"/>
<rect x="482.59" y="430.20" width="1.85" height="15.50" fill="#4646f2"/>
<rect x="495.57" y="430.20" width="1.85" height="15.50" fill="#4646f2"/>
<rect x="508.56" y="430.20" width="1.85" height="15.50" fill="#4646f2"/>
<rect x="521.54" y="430.20" width="1.85" height="15.50" fill="#4646f2"/>
<rect x="534.53" y="430.20" width="1.85" height="15.50" fill="#4646f2"/>
<rect x="547.51" y="430.20" width="1.85" height="15.50" fill="#4646f2"/>
<rect x="560.50" y="430.20" width="1.85" height="15.50" fill="#4646f2"/>
<rect x="573.49" y="430.20" width="1.85" height="15.50" fill="#4646f2"/>
<rect x="586.47" y="430.20" width="1.85" height="15.50" fill="#4646f2"/>
<rect x="599.46" y="430.20" width="1.85" height="15.50" fill="#4646f2"/>
<rect x="612.44" y="430.20" width="1.85" height="15.50" fill="#4646f2"/>
<rect x="625.42" y="430.20" width="1.85" height="15.50" fill="#4646f2"/>
<rect x="638.41" y="430.20" width="1.85" height="15.50" fill="#4646f2"/>
<rect x="651.39" y="430.20" width="1.85" height="15.50" fill="#4646f2"/>
<rect x="664.38" y="430.20" width="1.85" height="15.50" fill="#4646f2"/>
<rect x="677.37" y="430.20" width="1.85" height="15.50" fill="#4646f2"/>
<rect x="41.10" y="430.00" width="648.65" height="1.7" fill="#4646f2"/>
<rect x="41.10" y="444.20" width="648.65" height="1.7" fill="#4646f2"/>
<text x="48.69" y="440.95" text-anchor="middle" font-family='"Liberation Sans", sans-serif' font-weight="bold" font-size="8.6" fill="#1e1e1e" stroke="#1e1e1e" stroke-width="0.25">K</text>
<text x="61.68" y="440.95" text-anchor="middle" font-family='"Liberation Sans", sans-serif' font-weight="bold" font-size="8.6" fill="#1e1e1e" stroke="#1e1e1e" stroke-width="0.25">M</text>
<text x="74.66" y="440.95" text-anchor="middle" font-family='"Liberation Sans", sans-serif' font-weight="bold" font-size="8.6" fill="#1e1e1e" stroke="#1e1e1e" stroke-width="0.25">H</text>
<text x="87.65" y="440.95" text-anchor="middle" font-family='"Liberation Sans", sans-serif' font-weight="bold" font-size="8.6" fill="#1e1e1e" stroke="#1e1e1e" stroke-width="0.25">G</text>
<text x="100.63" y="440.95" text-anchor="middle" font-family='"Liberation Sans", sans-serif' font-weight="bold" font-size="8.6" fill="#1e1e1e" stroke="#1e1e1e" stroke-width="0.25">M</text>
<text x="113.62" y="440.95" text-anchor="middle" font-family='"Liberation Sans", sans-serif' font-weight="bold" font-size="8.6" fill="#1e1e1e" stroke="#1e1e1e" stroke-width="0.25">E</text>
<text x="126.60" y="440.95" text-anchor="middle" font-family='"Liberation Sans", sans-serif' font-weight="bold" font-size="8.6" fill="#1e1e1e" stroke="#1e1e1e" stroke-width="0.25">A</text>
<text x="139.59" y="440.95" text-anchor="middle" font-family='"Liberation Sans", sans-serif' font-weight="bold" font-size="8.6" fill="#1e1e1e" stroke="#1e1e1e" stroke-width="0.25">I</text>
<text x="152.57" y="440.95" text-anchor="middle" font-family='"Liberation Sans", sans-serif' font-weight="bold" font-size="8.6" fill="#1e1e1e" stroke="#1e1e1e" stroke-width="0.25">A</text>
<text x="165.56" y="440.95" text-anchor="middle" font-family='"Liberation Sans", sans-serif' font-weight="bold" font-size="8.6" fill="#1e1e1e" stroke="#1e1e1e" stroke-width="0.25">A</text>
<text x="178.54" y="440.95" text-anchor="middle" font-family='"Liberation Sans", sans-serif' font-weight="bold" font-size="8.6" fill="#1e1e1e" stroke="#1e1e1e" stroke-width="0.25">A</text>
<text x="191.53" y="440.95" text-anchor="middle" font-family='"Liberation Sans", sans-serif' font-weight="bold" font-size="8.6" fill="#1e1e1e" stroke="#1e1e1e" stroke-width="0.25">A</text>
<text x="204.51" y="440.95" text-anchor="middle" font-family='"Liberation Sans", sans-serif' font-weight="bold" font-size="8.6" fill="#1e1e1e" stroke="#1e1e1e" stroke-width="0.25">V</text>
<text x="217.50" y="440.95" text-anchor="middle" font-family='"Liberation Sans", sans-serif' font-weight="bold" font-size="8.6" fill="#1e1e1e" stroke="#1e1e1e" stroke-width="0.25">A</text>
<text x="230.48" y="440.95" text-anchor="middle" font-family='"Liberation Sans", sans-serif' font-weight="bold" font-size="8.6" fill="#1e1e1e" stroke="#1e1e1e" stroke-width="0.25">H</text>
<text x="243.47" y="440.95" text-anchor="middle" font-family='"Liberation Sans", sans-serif' font-weight="bold" font-size="8.6" fill="#1e1e1e" stroke="#1e1e1e" stroke-width="0.25">E</text>
<text x="256.45" y="440.95" text-anchor="middle" font-family='"Liberation Sans", sans-serif' font-weight="bold" font-size="8.6" fill="#1e1e1e" stroke="#1e1e1e" stroke-width="0.25">E</text>
<text x="269.44" y="440.95" text-anchor="middle" font-family='"Liberation Sans", sans-serif' font-weight="bold" font-size="8.6" fill="#1e1e1e" stroke="#1e1e1e" stroke-width="0.25">G</text>
<text x="282.42" y="440.95" text-anchor="middle" font-family='"Liberation Sans", sans-serif' font-weight="bold" font-size="8.6" fill="#1e1e1e" stroke="#1e1e1e" stroke-width="0.25">R</text>
<text x="295.41" y="440.95" text-anchor="middle" font-family='"Liberation Sans", sans-serif' font-weight="bold" font-size="8.6" fill="#1e1e1e" stroke="#1e1e1e" stroke-width="0.25">D</text>
<text x="308.39" y="440.95" text-anchor="middle" font-family='"Liberation Sans", sans-serif' font-weight="bold" font-size="8.6" fill="#1e1e1e" stroke="#1e1e1e" stroke-width="0.25">S</text>
<text x="321.38" y="440.95" text-anchor="middle" font-family='"Liberation Sans", sans-serif' font-weight="bold" font-size="8.6" fill="#1e1e1e" stroke="#1e1e1e" stroke-width="0.25">Q</text>
<text x="334.36" y="440.95" text-anchor="middle" font-family='"Liberation Sans", sans-serif' font-weight="bold" font-size="8.6" fill="#1e1e1e" stroke="#1e1e1e" stroke-width="0.25">M</text>
<text x="347.35" y="440.95" text-anchor="middle" font-family='"Liberation Sans", sans-serif' font-weight="bold" font-size="8.6" fill="#1e1e1e" stroke="#1e1e1e" stroke-width="0.25">P</text>
<text x="360.33" y="440.95" text-anchor="middle" font-family='"Liberation Sans", sans-serif' font-weight="bold" font-size="8.6" fill="#1e1e1e" stroke="#1e1e1e" stroke-width="0.25">R</text>
<text x="373.32" y="440.95" text-anchor="middle" font-family='"Liberation Sans", sans-serif' font-weight="bold" font-size="8.6" fill="#1e1e1e" stroke="#1e1e1e" stroke-width="0.25">D</text>
<text x="386.30" y="440.95" text-anchor="middle" font-family='"Liberation Sans", sans-serif' font-weight="bold" font-size="8.6" fill="#1e1e1e" stroke="#1e1e1e" stroke-width="0.25">D</text>
<text x="399.29" y="440.95" text-anchor="middle" font-family='"Liberation Sans", sans-serif' font-weight="bold" font-size="8.6" fill="#1e1e1e" stroke="#1e1e1e" stroke-width="0.25">E</text>
<text x="412.27" y="440.95" text-anchor="middle" font-family='"Liberation Sans", sans-serif' font-weight="bold" font-size="8.6" fill="#1e1e1e" stroke="#1e1e1e" stroke-width="0.25">D</text>
<text x="425.26" y="440.95" text-anchor="middle" font-family='"Liberation Sans", sans-serif' font-weight="bold" font-size="8.6" fill="#1e1e1e" stroke="#1e1e1e" stroke-width="0.25">Q</text>
<text x="438.24" y="440.95" text-anchor="middle" font-family='"Liberation Sans", sans-serif' font-weight="bold" font-size="8.6" fill="#1e1e1e" stroke="#1e1e1e" stroke-width="0.25">E</text>
<text x="451.23" y="440.95" text-anchor="middle" font-family='"Liberation Sans", sans-serif' font-weight="bold" font-size="8.6" fill="#1e1e1e" stroke="#1e1e1e" stroke-width="0.25">S</text>
<text x="464.21" y="440.95" text-anchor="middle" font-family='"Liberation Sans", sans-serif' font-weight="bold" font-size="8.6" fill="#1e1e1e" stroke="#1e1e1e" stroke-width="0.25">P</text>
<text x="477.20" y="440.95" text-anchor="middle" font-family='"Liberation Sans", sans-serif' font-weight="bold" font-size="8.6" fill="#1e1e1e" stroke="#1e1e1e" stroke-width="0.25">S</text>
<text x="490.18" y="440.95" text-anchor="middle" font-family='"Liberation Sans", sans-serif' font-weight="bold" font-size="8.6" fill="#1e1e1e" stroke="#1e1e1e" stroke-width="0.25">T</text>
<text x="503.17" y="440.95" text-anchor="middle" font-family='"Liberation Sans", sans-serif' font-weight="bold" font-size="8.6" fill="#1e1e1e" stroke="#1e1e1e" stroke-width="0.25">P</text>
<text x="516.15" y="440.95" text-anchor="middle" font-family='"Liberation Sans", sans-serif' font-weight="bold" font-size="8.6" fill="#1e1e1e" stroke="#1e1e1e" stroke-width="0.25">T</text>
<text x="529.14" y="440.95" text-anchor="middle" font-family='"Liberation Sans", sans-serif' font-weight="bold" font-size="8.6" fill="#1e1e1e" stroke="#1e1e1e" stroke-width="0.25">A</text>
<text x="542.12" y="440.95" text-anchor="middle" font-family='"Liberation Sans", sans-serif' font-weight="bold" font-size="8.6" fill="#1e1e1e" stroke="#1e1e1e" stroke-width="0.25">R</text>
<text x="555.11" y="440.95" text-anchor="middle" font-family='"Liberation Sans", sans-serif' font-weight="bold" font-size="8.6" fill="#1e1e1e" stroke="#1e1e1e" stroke-width="0.25">S</text>
<text x="568.09" y="440.95" text-anchor="middle" font-family='"Liberation Sans", sans-serif' font-weight="bold" font-size="8.6" fill="#1e1e1e" stroke="#1e1e1e" stroke-width="0.25">T</text>
<text x="581.08" y="440.95" text-anchor="middle" font-family='"Liberation Sans", sans-serif' font-weight="bold" font-size="8.6" fill="#1e1e1e" stroke="#1e1e1e" stroke-width="0.25">T</text>
<text x="594.06" y="440.95" text-anchor="middle" font-family='"Liberation Sans", sans-serif' font-weight="bold" font-size="8.6" fill="#1e1e1e" stroke="#1e1e1e" stroke-width="0.25">T</text>
<text x="607.05" y="440.95" text-anchor="middle" font-family='"Liberation Sans", sans-serif' font-weight="bold" font-size="8.6" fill="#1e1e1e" stroke="#1e1e1e" stroke-width="0.25">M</text>
<text x="620.03" y="440.95" text-anchor="middle" font-family='"Liberation Sans", sans-serif' font-weight="bold" font-size="8.6" fill="#1e1e1e" stroke="#1e1e1e" stroke-width="0.25">L</text>
<text x="633.02" y="440.95" text-anchor="middle" font-family='"Liberation Sans", sans-serif' font-weight="bold" font-size="8.6" fill="#1e1e1e" stroke="#1e1e1e" stroke-width="0.25">D</text>
<text x="646.00" y="440.95" text-anchor="middle" font-family='"Liberation Sans", sans-serif' font-weight="bold" font-size="8.6" fill="#1e1e1e" stroke="#1e1e1e" stroke-width="0.25">A</text>
<text x="658.99" y="440.95" text-anchor="middle" font-family='"Liberation Sans", sans-serif' font-weight="bold" font-size="8.6" fill="#1e1e1e" stroke="#1e1e1e" stroke-width="0.25">E</text>
<text x="671.97" y="440.95" text-anchor="middle" font-family='"Liberation Sans", sans-serif' font-weight="bold" font-size="8.6" fill="#1e1e1e" stroke="#1e1e1e" stroke-width="0.25">E</text>
<text x="684.96" y="440.95" text-anchor="middle" font-family='"Liberation Sans", sans-serif' font-weight="bold" font-size="8.6" fill="#1e1e1e" stroke="#1e1e1e" stroke-width="0.25">E</text>
<rect x="42.95" y="446.90" width="11.13" height="9.60" fill="#f25cb4"/>
<rect x="55.94" y="446.90" width="11.13" height="9.60" fill="#f25cb4"/>
<rect x="68.92" y="446.90" width="11.13" height="9.60" fill="#f25cb4"/>
<rect x="81.91" y="446.90" width="11.13" height="9.60" fill="#d7d7d7"/>
<rect x="93.79" y="446.50" width="12.23" height="10.40" fill="#d7d7d7"/>
<rect x="106.78" y="446.50" width="12.23" height="10.40" fill="#d7d7d7"/>
<rect x="119.76" y="446.50" width="12.23" height="10.40" fill="#d7d7d7"/>
<rect x="132.75" y="446.50" width="12.23" height="10.40" fill="#d7d7d7"/>
<rect x="145.73" y="446.50" width="12.23" height="10.40" fill="#d7d7d7"/>
<rect x="158.72" y="446.50" width="12.23" height="10.40" fill="#d7d7d7"/>
<rect x="171.70" y="446.50" width="12.23" height="10.40" fill="#f8c818"/>
<rect x="184.68" y="446.50" width="12.23" height="10.40" fill="#f8c818"/>
<rect x="197.67" y="446.50" width="12.23" height="10.40" fill="#f8c818"/>
<rect x="210.66" y="446.50" width="12.23" height="10.40" fill="#f8c818"/>
<rect x="223.64" y="446.50" width="12.23" height="10.40" fill="#f8c818"/>
<rect x="236.62" y="446.50" width="12.23" height="10.40" fill="#f8c818"/>
<rect x="249.61" y="446.50" width="12.23" height="10.40" fill="#d7d7d7"/>
<rect x="262.60" y="446.50" width="12.23" height="10.40" fill="#d7d7d7"/>
<rect x="276.68" y="446.90" width="11.13" height="9.60" fill="#d7d7d7"/>
<rect x="289.67" y="446.90" width="11.13" height="9.60" fill="#d7d7d7"/>
<rect x="302.65" y="446.90" width="11.13" height="9.60" fill="#d7d7d7"/>
<rect x="315.64" y="446.90" width="11.13" height="9.60" fill="#d7d7d7"/>
<rect x="328.62" y="446.90" width="11.13" height="9.60" fill="#d7d7d7"/>
<rect x="341.61" y="446.90" width="11.13" height="9.60" fill="#d7d7d7"/>
<rect x="354.59" y="446.90" width="11.13" height="9.60" fill="#d7d7d7"/>
<rect x="367.58" y="446.90" width="11.13" height="9.60" fill="#d7d7d7"/>
<rect x="380.56" y="446.90" width="11.13" height="9.60" fill="#d7d7d7"/>
<rect x="393.55" y="446.90" width="11.13" height="9.60" fill="#d7d7d7"/>
<rect x="406.53" y="446.90" width="11.13" height="9.60" fill="#d7d7d7"/>
<rect x="419.52" y="446.90" width="11.13" height="9.60" fill="#d7d7d7"/>
<rect x="432.50" y="446.90" width="11.13" height="9.60" fill="#d7d7d7"/>
<rect x="41.10" y="445.40" width="1.85" height="12.60" fill="#4646f2"/>
<rect x="54.09" y="445.40" width="1.85" height="12.60" fill="#4646f2"/>
<rect x="67.07" y="445.40" width="1.85" height="12.60" fill="#4646f2"/>
<rect x="80.06" y="445.40" width="1.85" height="12.60" fill="#4646f2"/>
<rect x="93.04" y="445.40" width="1.85" height="12.60" fill="#4646f2"/>
<rect x="41.10" y="445.20" width="53.79" height="1.7" fill="#4646f2"/>
<rect x="41.10" y="456.50" width="53.79" height="1.7" fill="#4646f2"/>
<rect x="274.83" y="445.40" width="1.85" height="12.60" fill="#52a852"/>
<rect x="287.81" y="445.40" width="1.85" height="12.60" fill="#52a852"/>
<rect x="300.80" y="445.40" width="1.85" height="12.60" fill="#52a852"/>
<rect x="313.79" y="445.40" width="1.85" height="12.60" fill="#52a852"/>
<rect x="326.77" y="445.40" width="1.85" height="12.60" fill="#52a852"/>
<rect x="339.75" y="445.40" width="1.85" height="12.60" fill="#52a852"/>
<rect x="352.74" y="445.40" width="1.85" height="12.60" fill="#52a852"/>
<rect x="365.73" y="445.40" width="1.85" height="12.60" fill="#52a852"/>
<rect x="378.71" y="445.40" width="1.85" height="12.60" fill="#52a852"/>
<rect x="391.69" y="445.40" width="1.85" height="12.60" fill="#52a852"/>
<rect x="404.68" y="445.40" width="1.85" height="12.60" fill="#52a852"/>
<rect x="417.67" y="445.40" width="1.85" height="12.60" fill="#52a852"/>
<rect x="430.65" y="445.40" width="1.85" height="12.60" fill="#52a852"/>
<rect x="443.63" y="445.40" width="1.85" height="12.60" fill="#52a852"/>
<rect x="274.83" y="445.20" width="170.66" height="1.7" fill="#52a852"/>
<text x="48.69" y="454.70" text-anchor="middle" font-family='"Liberation Sans", sans-serif' font-weight="bold" font-size="8.6" fill="#1e1e1e" stroke="#1e1e1e" stroke-width="0.25">A</text>
<text x="61.68" y="454.70" text-anchor="middle" font-family='"Liberation Sans", sans-serif' font-weight="bold" font-size="8.6" fill="#1e1e1e" stroke="#1e1e1e" stroke-width="0.25">K</text>
<text x="74.66" y="454.70" text-anchor="middle" font-family='"Liberation Sans", sans-serif' font-weight="bold" font-size="8.6" fill="#1e1e1e" stroke="#1e1e1e" stroke-width="0.25">Q</text>
<text x="87.65" y="454.70" text-anchor="middle" font-family='"Liberation Sans", sans-serif' font-weight="bold" font-size="8.6" fill="#1e1e1e" stroke="#1e1e1e" stroke-width="0.25">A</text>
<text x="100.63" y="454.70" text-anchor="middle" font-family='"Liberation Sans", sans-serif' font-weight="bold" font-size="8.6" fill="#1e1e1e" stroke="#1e1e1e" stroke-width="0.25">G</text>
<text x="113.62" y="454.70" text-anchor="middle" font-family='"Liberation Sans", sans-serif' font-weight="bold" font-size="8.6" fill="#1e1e1e" stroke="#1e1e1e" stroke-width="0.25">E</text>
<text x="126.60" y="454.70" text-anchor="middle" font-family='"Liberation Sans", sans-serif' font-weight="bold" font-size="8.6" fill="#1e1e1e" stroke="#1e1e1e" stroke-width="0.25">N</text>
<text x="139.59" y="454.70" text-anchor="middle" font-family='"Liberation Sans", sans-serif' font-weight="bold" font-size="8.6" fill="#1e1e1e" stroke="#1e1e1e" stroke-width="0.25">L</text>
<text x="152.57" y="454.70" text-anchor="middle" font-family='"Liberation Sans", sans-serif' font-weight="bold" font-size="8.6" fill="#1e1e1e" stroke="#1e1e1e" stroke-width="0.25">Y</text>
<text x="165.56" y="454.70" text-anchor="middle" font-family='"Liberation Sans", sans-serif' font-weight="bold" font-size="8.6" fill="#1e1e1e" stroke="#1e1e1e" stroke-width="0.25">P</text>
<text x="178.54" y="454.70" text-anchor="middle" font-family='"Liberation Sans", sans-serif' font-weight="bold" font-size="8.6" fill="#1e1e1e" stroke="#1e1e1e" stroke-width="0.25">V</text>
<text x="191.53" y="454.70" text-anchor="middle" font-family='"Liberation Sans", sans-serif' font-weight="bold" font-size="8.6" fill="#1e1e1e" stroke="#1e1e1e" stroke-width="0.25">L</text>
<text x="204.51" y="454.70" text-anchor="middle" font-family='"Liberation Sans", sans-serif' font-weight="bold" font-size="8.6" fill="#1e1e1e" stroke="#1e1e1e" stroke-width="0.25">K</text>
<text x="217.50" y="454.70" text-anchor="middle" font-family='"Liberation Sans", sans-serif' font-weight="bold" font-size="8.6" fill="#1e1e1e" stroke="#1e1e1e" stroke-width="0.25">M</text>
<text x="230.48" y="454.70" text-anchor="middle" font-family='"Liberation Sans", sans-serif' font-weight="bold" font-size="8.6" fill="#1e1e1e" stroke="#1e1e1e" stroke-width="0.25">A</text>
<text x="243.47" y="454.70" text-anchor="middle" font-family='"Liberation Sans", sans-serif' font-weight="bold" font-size="8.6" fill="#1e1e1e" stroke="#1e1e1e" stroke-width="0.25">V</text>
<text x="256.45" y="454.70" text-anchor="middle" font-family='"Liberation Sans", sans-serif' font-weight="bold" font-size="8.6" fill="#1e1e1e" stroke="#1e1e1e" stroke-width="0.25">D</text>
<text x="269.44" y="454.70" text-anchor="middle" font-family='"Liberation Sans", sans-serif' font-weight="bold" font-size="8.6" fill="#1e1e1e" stroke="#1e1e1e" stroke-width="0.25">D</text>
<text x="282.42" y="454.70" text-anchor="middle" font-family='"Liberation Sans", sans-serif' font-weight="bold" font-size="8.6" fill="#1e1e1e" stroke="#1e1e1e" stroke-width="0.25">D</text>
<text x="295.41" y="454.70" text-anchor="middle" font-family='"Liberation Sans", sans-serif' font-weight="bold" font-size="8.6" fill="#1e1e1e" stroke="#1e1e1e" stroke-width="0.25">G</text>
<text x="308.39" y="454.70" text-anchor="middle" font-family='"Liberation Sans", sans-serif' font-weight="bold" font-size="8.6" fill="#1e1e1e" stroke="#1e1e1e" stroke-width="0.25">A</text>
<text x="321.38" y="454.70" text-anchor="middle" font-family='"Liberation Sans", sans-serif' font-weight="bold" font-size="8.6" fill="#1e1e1e" stroke="#1e1e1e" stroke-width="0.25">D</text>
<text x="334.36" y="454.70" text-anchor="middle" font-family='"Liberation Sans", sans-serif' font-weight="bold" font-size="8.6" fill="#1e1e1e" stroke="#1e1e1e" stroke-width="0.25">T</text>
<text x="347.35" y="454.70" text-anchor="middle" font-family='"Liberation Sans", sans-serif' font-weight="bold" font-size="8.6" fill="#1e1e1e" stroke="#1e1e1e" stroke-width="0.25">D</text>
<text x="360.33" y="454.70" text-anchor="middle" font-family='"Liberation Sans", sans-serif' font-weight="bold" font-size="8.6" fill="#1e1e1e" stroke="#1e1e1e" stroke-width="0.25">G</text>
<text x="373.32" y="454.70" text-anchor="middle" font-family='"Liberation Sans", sans-serif' font-weight="bold" font-size="8.6" fill="#1e1e1e" stroke="#1e1e1e" stroke-width="0.25">D</text>
<text x="386.30" y="454.70" text-anchor="middle" font-family='"Liberation Sans", sans-serif' font-weight="bold" font-size="8.6" fill="#1e1e1e" stroke="#1e1e1e" stroke-width="0.25">E</text>
<text x="399.29" y="454.70" text-anchor="middle" font-family='"Liberation Sans", sans-serif' font-weight="bold" font-size="8.6" fill="#1e1e1e" stroke="#1e1e1e" stroke-width="0.25">K</text>
<text x="412.27" y="454.70" text-anchor="middle" font-family='"Liberation Sans", sans-serif' font-weight="bold" font-size="8.6" fill="#1e1e1e" stroke="#1e1e1e" stroke-width="0.25">M</text>
<text x="425.26" y="454.70" text-anchor="middle" font-family='"Liberation Sans", sans-serif' font-weight="bold" font-size="8.6" fill="#1e1e1e" stroke="#1e1e1e" stroke-width="0.25">G</text>
<text x="438.24" y="454.70" text-anchor="middle" font-family='"Liberation Sans", sans-serif' font-weight="bold" font-size="8.6" fill="#1e1e1e" stroke="#1e1e1e" stroke-width="0.25">Q</text>
<text x="35" y="396.1" text-anchor="end" class="s" font-family='"Liberation Serif", serif' font-weight="bold" font-size="11.5">585</text>
<text x="694.8" y="397" class="s" font-family='"Liberation Serif", serif' font-weight="bold" font-size="11.5">634</text>
<text x="35" y="410.1" text-anchor="end" class="s" font-family='"Liberation Serif", serif' font-weight="bold" font-size="11.5">635</text>
<text x="694.8" y="411.9" class="s" font-family='"Liberation Serif", serif' font-weight="bold" font-size="11.5">684</text>
<text x="35" y="426.2" text-anchor="end" class="s" font-family='"Liberation Serif", serif' font-weight="bold" font-size="11.5">685</text>
<text x="694.8" y="427.5" class="s" font-family='"Liberation Serif", serif' font-weight="bold" font-size="11.5">734</text>
<text x="35" y="440.9" text-anchor="end" class="s" font-family='"Liberation Serif", serif' font-weight="bold" font-size="11.5">735</text>
<text x="694.8" y="442.7" class="s" font-family='"Liberation Serif", serif' font-weight="bold" font-size="11.5">784</text>
<text x="35" y="456.7" text-anchor="end" class="s" font-family='"Liberation Serif", serif' font-weight="bold" font-size="11.5">785</text>
<text x="694.8" y="457.4" class="s" font-family='"Liberation Serif", serif' font-weight="bold" font-size="11.5">815</text>
<rect x="43.2" y="488.1" width="21.4" height="14.3" fill="#f6ee2e"/>
<rect x="168.1" y="489" width="22.6" height="11.8" fill="#f53ae2"/>
<rect x="278" y="489" width="22" height="11" rx="1.5" fill="#f0f0f0" stroke="#3c3cf0" stroke-width="1.8"/>
<text x="78" y="499.6" class="s" font-family='"Liberation Serif", serif' font-weight="bold" font-size="14">Strand</text>
<text x="204.2" y="499.6" class="s" font-family='"Liberation Serif", serif' font-weight="bold" font-size="14">Helix</text>
<text x="313.8" y="499.2" class="s" font-family='"Liberation Serif", serif' font-weight="bold" font-size="14">Disordered</text>
</svg>
</body></html>
